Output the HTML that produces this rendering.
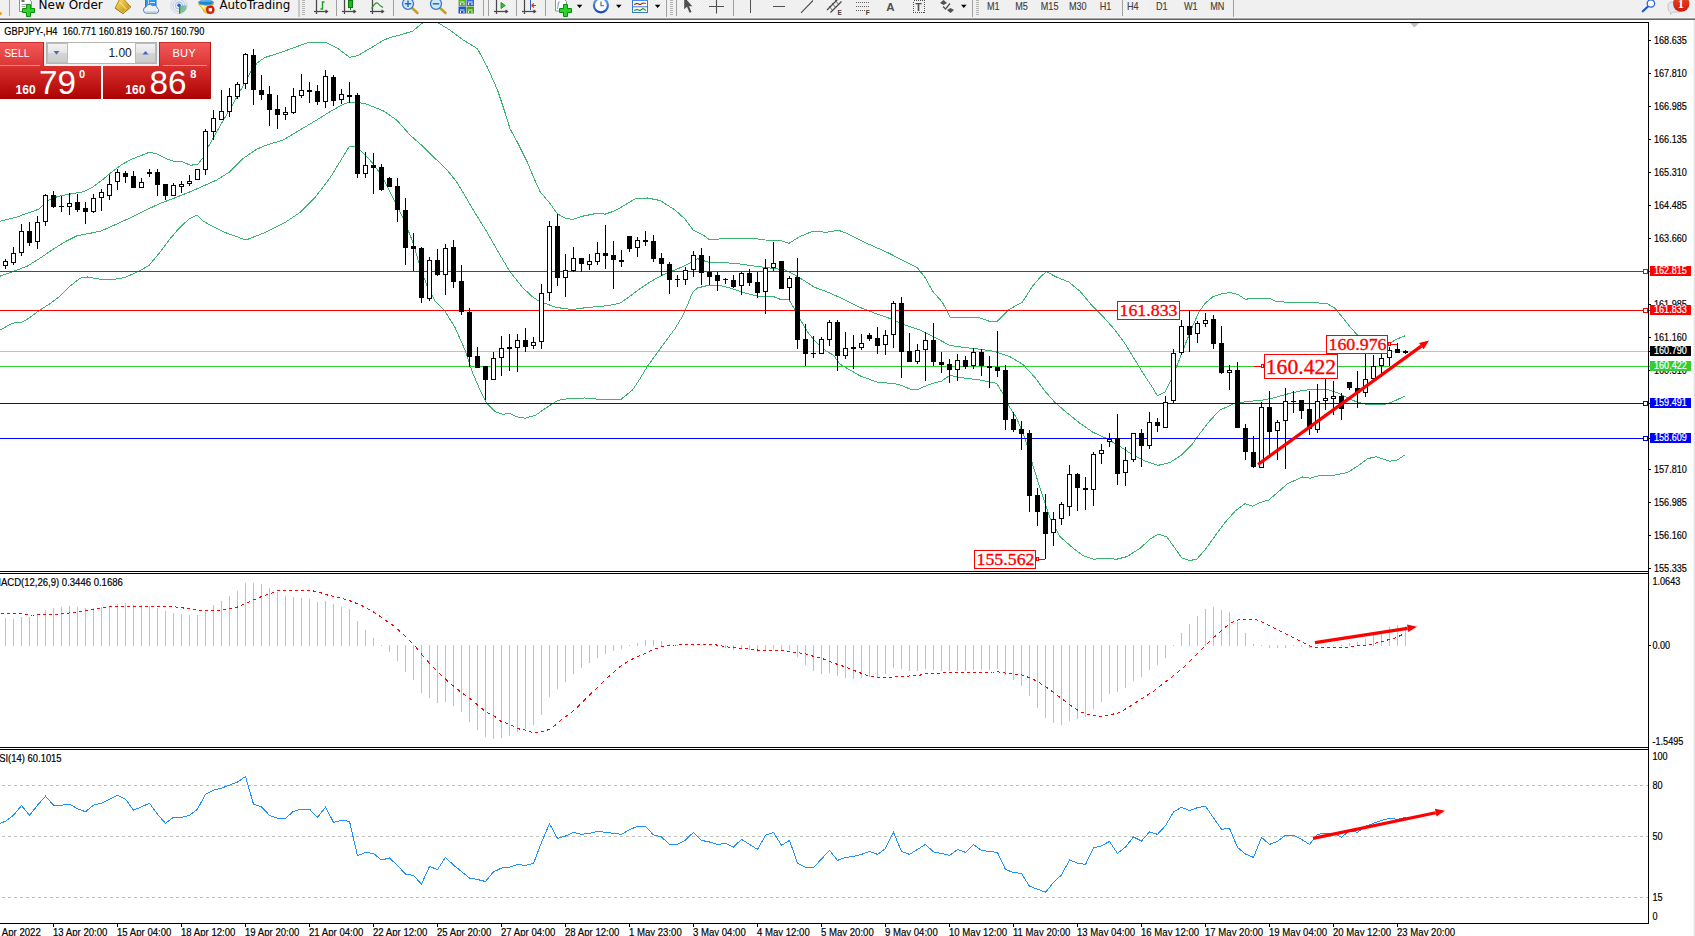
<!DOCTYPE html>
<html><head><meta charset="utf-8"><title>GBPJPY H4</title>
<style>html,body{margin:0;padding:0;background:#fff;overflow:hidden}svg{display:block}</style>
</head><body>
<svg width="1695" height="936" viewBox="0 0 1695 936">
<defs>
<linearGradient id="gTop" x1="0" y1="0" x2="0" y2="1"><stop offset="0" stop-color="#f45a5a"/><stop offset="1" stop-color="#dc3535"/></linearGradient>
<linearGradient id="gBot" x1="0" y1="0" x2="0" y2="1"><stop offset="0" stop-color="#d93030"/><stop offset="1" stop-color="#ac0202"/></linearGradient>
<linearGradient id="gBtn" x1="0" y1="0" x2="0" y2="1"><stop offset="0" stop-color="#f4f4f4"/><stop offset="0.5" stop-color="#e4e4e4"/><stop offset="0.5" stop-color="#d4d4d4"/><stop offset="1" stop-color="#cccccc"/></linearGradient>
<linearGradient id="gGold" x1="0" y1="0" x2="1" y2="1"><stop offset="0" stop-color="#ffe36a"/><stop offset="1" stop-color="#b8860b"/></linearGradient>
<linearGradient id="gBlue" x1="0" y1="0" x2="0" y2="1"><stop offset="0" stop-color="#6aa8ee"/><stop offset="1" stop-color="#1448b8"/></linearGradient>
<linearGradient id="gRed" x1="0" y1="0" x2="0" y2="1"><stop offset="0" stop-color="#e84a2a"/><stop offset="1" stop-color="#d01808"/></linearGradient>
<pattern id="hatch" width="2" height="2" patternUnits="userSpaceOnUse"><rect width="2" height="2" fill="#f6f6f6"/><rect width="1" height="1" fill="#ececec"/><rect x="1" y="1" width="1" height="1" fill="#ececec"/></pattern>
<clipPath id="cMain"><rect x="0" y="23" width="1648" height="548"/></clipPath>
<clipPath id="cTb"><rect x="0" y="0" width="1695" height="17"/></clipPath>
</defs>
<rect width="1695" height="936" fill="#fff"/>
<g shape-rendering="crispEdges">
<rect x="0" y="351" width="1648" height="1" fill="#c0c0c0"/>
<g clip-path="url(#cMain)" fill="none" stroke="#3cb371" stroke-width="1">
<polyline points="0.0,221.3 16.0,217.3 27.2,213.3 38.5,209.3 48.0,200.5 57.7,196.5 70.5,194.0 83.3,191.7 93.0,186.9 102.6,179.7 112.2,171.7 121.8,164.5 131.4,159.3 141.0,155.6 149.8,152.1 157.0,154.0 166.7,158.8 174.7,161.6 182.7,162.0 190.7,165.3 198.0,164.1 203.5,157.2 208.3,146.7 216.7,131.7 225.0,117.5 233.3,103.3 241.7,88.3 250.0,73.0 257.0,63.0 265.0,57.5 283.3,51.5 308.3,42.5 326.0,42.5 338.0,48.5 349.5,57.3 358.0,55.5 373.3,46.5 382.5,40.8 390.0,37.5 400.0,35.0 412.5,31.2 422.5,23.0 430.0,19.0 437.5,22.5 450.0,30.0 462.5,39.5 477.5,48.7 487.5,67.5 497.5,90.0 505.0,112.5 510.0,128.7 517.5,142.5 527.5,162.5 533.3,176.7 540.0,191.5 550.0,203.5 557.5,214.0 565.0,218.0 572.5,219.4 582.5,216.2 597.5,213.2 605.0,214.2 615.0,210.8 625.0,205.0 636.0,198.2 647.5,198.0 660.0,200.5 675.0,210.0 685.0,219.0 693.5,230.5 702.5,234.5 709.0,239.5 730.0,238.5 755.0,238.5 765.0,240.0 780.0,240.3 789.0,243.3 800.0,236.5 812.5,231.4 826.7,232.2 838.5,230.2 847.5,233.7 865.0,242.5 887.5,252.5 905.0,261.4 917.5,267.8 925.0,277.5 932.5,291.0 942.5,302.5 950.0,317.0 965.0,317.5 980.0,318.0 990.0,321.5 997.5,321.2 1009.0,309.5 1022.5,302.0 1032.5,286.2 1040.0,277.5 1046.2,271.7 1057.5,277.5 1068.7,282.0 1080.0,291.2 1092.5,306.2 1105.0,318.7 1115.0,330.0 1125.0,343.7 1135.0,360.0 1145.0,376.2 1152.5,387.5 1157.3,395.7 1165.0,392.0 1172.5,377.0 1180.0,358.0 1185.0,345.0 1191.7,328.3 1198.3,313.3 1205.0,303.3 1213.3,296.5 1221.7,293.7 1230.0,292.6 1238.0,294.5 1245.0,299.2 1256.7,298.3 1270.0,298.3 1276.7,301.7 1296.7,302.5 1313.3,302.8 1326.7,303.3 1335.0,308.3 1343.3,318.3 1350.0,326.7 1356.7,334.2 1365.0,342.0 1375.0,347.0 1384.0,346.0 1390.8,342.5 1396.7,339.2 1405.0,335.8"/>
<polyline points="0.0,276.2 14.4,271.0 27.2,266.2 40.0,258.2 52.9,249.4 65.7,241.4 76.9,235.8 89.7,233.4 101.0,231.0 115.4,224.6 131.4,217.3 147.4,209.3 160.3,203.4 176.3,197.3 192.3,190.9 200.0,187.5 216.7,180.0 230.0,171.7 243.3,158.3 256.7,149.2 266.7,145.0 283.3,140.0 300.0,130.0 316.7,120.0 330.0,111.7 343.3,104.2 350.0,102.0 357.0,102.0 366.7,104.2 383.3,110.8 396.7,120.0 410.0,135.0 423.3,146.7 436.7,160.0 446.7,169.5 456.7,182.0 463.3,193.0 473.3,210.0 486.7,231.7 500.0,255.0 510.0,271.7 523.3,288.3 533.3,297.5 540.0,301.7 556.7,307.5 571.7,309.5 587.5,307.5 607.5,305.7 620.0,303.2 630.0,296.2 640.0,288.7 650.0,282.0 662.5,275.0 675.0,270.0 687.5,264.5 697.5,258.7 707.5,262.0 722.5,262.5 737.5,263.7 755.0,266.2 770.0,268.0 785.0,270.0 795.0,275.0 805.0,281.2 815.0,287.5 826.7,291.7 841.7,298.3 858.3,306.7 875.0,313.3 890.0,318.5 905.0,325.0 920.0,330.0 935.0,337.5 950.0,345.5 965.0,347.5 980.0,349.2 995.0,351.5 1010.0,356.7 1023.0,364.5 1035.0,377.5 1045.0,391.2 1055.0,402.5 1066.0,412.0 1080.0,423.3 1093.3,432.5 1106.7,438.5 1120.0,446.5 1133.3,455.3 1146.7,461.7 1158.3,465.3 1170.0,462.5 1181.7,455.0 1191.7,445.0 1200.0,433.3 1210.0,420.5 1220.0,410.0 1233.3,404.0 1246.7,401.5 1261.7,400.3 1275.0,397.5 1290.0,393.3 1303.3,390.3 1316.7,389.2 1326.7,389.2 1336.7,392.5 1346.7,397.5 1356.7,402.0 1366.7,404.5 1376.7,405.0 1385.0,404.2 1393.3,401.5 1405.0,396.0"/>
<polyline points="0.0,330.0 12.5,323.2 22.5,322.0 30.0,317.5 40.0,310.0 50.0,303.7 60.0,296.2 70.0,286.2 80.0,278.2 87.5,277.0 100.0,279.2 112.0,279.8 125.0,277.4 137.8,271.8 149.0,265.4 160.3,251.8 169.9,239.0 179.5,227.8 189.1,218.9 197.1,215.2 203.5,221.3 212.0,226.2 225.0,232.5 246.0,240.0 265.0,232.5 285.0,222.5 300.0,212.5 315.0,197.5 330.0,178.0 340.0,161.7 349.2,146.5 354.5,146.5 360.0,150.0 370.0,160.0 380.0,173.3 388.3,188.3 395.0,201.7 403.3,218.3 413.3,243.3 420.0,266.7 426.7,285.0 435.0,301.0 445.0,311.2 455.0,327.5 465.0,350.0 472.5,372.5 480.0,390.0 486.2,402.5 495.0,411.7 502.5,414.2 510.0,413.7 517.5,417.0 525.0,418.2 535.0,415.5 545.0,408.7 557.5,400.5 570.0,398.2 585.0,398.0 597.5,399.2 621.2,399.2 632.5,390.0 640.0,378.7 647.5,366.2 657.5,352.5 667.5,338.7 675.0,328.7 682.5,316.2 687.5,305.0 692.5,292.5 697.5,288.0 707.5,285.5 720.0,285.5 730.0,288.0 745.0,293.0 757.5,296.2 772.5,296.2 780.0,299.2 788.7,299.5 793.7,307.5 800.0,319.0 807.5,332.0 816.7,343.0 826.7,351.5 833.3,355.0 840.0,364.2 850.0,370.0 860.0,375.8 876.7,382.0 898.3,384.2 910.0,389.0 917.5,389.5 930.0,384.2 941.7,381.0 950.0,375.3 960.0,377.5 980.0,380.0 996.7,383.3 1001.7,391.7 1008.3,405.0 1016.7,418.3 1025.0,438.3 1030.0,455.0 1033.3,466.7 1041.7,493.3 1050.0,518.3 1060.0,536.7 1073.3,548.3 1083.3,555.8 1093.3,559.2 1105.0,558.3 1116.7,559.2 1126.7,556.7 1140.0,548.3 1150.0,539.2 1158.3,534.2 1166.7,536.7 1175.0,548.3 1181.7,558.0 1190.0,560.5 1196.7,559.2 1205.0,550.0 1215.0,536.0 1225.0,522.5 1235.0,511.2 1245.0,503.7 1252.5,506.2 1260.0,502.5 1268.7,500.0 1277.5,492.5 1287.5,483.7 1302.5,477.0 1310.0,478.2 1320.0,475.5 1335.0,475.0 1347.5,472.5 1357.5,466.2 1367.5,458.7 1376.2,456.7 1390.0,461.2 1397.5,460.0 1404.5,455.0"/>
</g>
<rect x="0" y="271" width="1648" height="1" fill="#ff0000"/>
<rect x="0" y="310" width="1648" height="1" fill="#ff0000"/>
<rect x="0" y="366" width="1648" height="1" fill="#32cd32"/>
<rect x="0" y="403" width="1648" height="1" fill="#0000ff"/>
<rect x="0" y="438" width="1648" height="1" fill="#0000ff"/>
<rect x="1643.5" y="269.5" width="4" height="4" fill="#fff" stroke="#ff0000" stroke-width="1"/>
<rect x="1643.5" y="308.5" width="4" height="4" fill="#fff" stroke="#ff0000" stroke-width="1"/>
<rect x="1643.5" y="401.5" width="4" height="4" fill="#fff" stroke="#0000ff" stroke-width="1"/>
<rect x="1643.5" y="436.5" width="4" height="4" fill="#fff" stroke="#0000ff" stroke-width="1"/>
<rect x="5" y="259" width="1" height="10" fill="#000"/>
<rect x="3" y="261" width="5" height="5" fill="#000"/>
<rect x="4" y="262" width="3" height="3" fill="#fff"/>
<rect x="13" y="247" width="1" height="18" fill="#000"/>
<rect x="11" y="253" width="5" height="10" fill="#000"/>
<rect x="12" y="254" width="3" height="8" fill="#fff"/>
<rect x="21" y="224" width="1" height="32" fill="#000"/>
<rect x="19" y="231" width="5" height="22" fill="#000"/>
<rect x="20" y="232" width="3" height="20" fill="#fff"/>
<rect x="29" y="222" width="1" height="24" fill="#000"/>
<rect x="27" y="231" width="5" height="12" fill="#000"/>
<rect x="37" y="216" width="1" height="33" fill="#000"/>
<rect x="35" y="222" width="5" height="20" fill="#000"/>
<rect x="36" y="223" width="3" height="18" fill="#fff"/>
<rect x="45" y="194" width="1" height="32" fill="#000"/>
<rect x="43" y="195" width="5" height="27" fill="#000"/>
<rect x="44" y="196" width="3" height="25" fill="#fff"/>
<rect x="53" y="191" width="1" height="17" fill="#000"/>
<rect x="51" y="195" width="5" height="12" fill="#000"/>
<rect x="61" y="196" width="1" height="16" fill="#000"/>
<rect x="59" y="206" width="5" height="1" fill="#000"/>
<rect x="69" y="193" width="1" height="22" fill="#000"/>
<rect x="67" y="203" width="5" height="4" fill="#000"/>
<rect x="68" y="204" width="3" height="2" fill="#fff"/>
<rect x="77" y="194" width="1" height="18" fill="#000"/>
<rect x="75" y="202" width="5" height="8" fill="#000"/>
<rect x="85" y="202" width="1" height="22" fill="#000"/>
<rect x="83" y="208" width="5" height="4" fill="#000"/>
<rect x="93" y="194" width="1" height="19" fill="#000"/>
<rect x="91" y="198" width="5" height="14" fill="#000"/>
<rect x="92" y="199" width="3" height="12" fill="#fff"/>
<rect x="101" y="189" width="1" height="22" fill="#000"/>
<rect x="99" y="192" width="5" height="6" fill="#000"/>
<rect x="100" y="193" width="3" height="4" fill="#fff"/>
<rect x="109" y="175" width="1" height="25" fill="#000"/>
<rect x="107" y="184" width="5" height="12" fill="#000"/>
<rect x="108" y="185" width="3" height="10" fill="#fff"/>
<rect x="117" y="169" width="1" height="21" fill="#000"/>
<rect x="115" y="172" width="5" height="10" fill="#000"/>
<rect x="116" y="173" width="3" height="8" fill="#fff"/>
<rect x="125" y="171" width="1" height="12" fill="#000"/>
<rect x="123" y="173" width="5" height="4" fill="#000"/>
<rect x="133" y="171" width="1" height="17" fill="#000"/>
<rect x="131" y="176" width="5" height="12" fill="#000"/>
<rect x="141" y="178" width="1" height="10" fill="#000"/>
<rect x="139" y="182" width="5" height="6" fill="#000"/>
<rect x="140" y="183" width="3" height="4" fill="#fff"/>
<rect x="149" y="169" width="1" height="8" fill="#000"/>
<rect x="147" y="172" width="5" height="2" fill="#000"/>
<rect x="157" y="169" width="1" height="27" fill="#000"/>
<rect x="155" y="172" width="5" height="13" fill="#000"/>
<rect x="165" y="184" width="1" height="16" fill="#000"/>
<rect x="163" y="184" width="5" height="12" fill="#000"/>
<rect x="173" y="183" width="1" height="13" fill="#000"/>
<rect x="171" y="185" width="5" height="11" fill="#000"/>
<rect x="172" y="186" width="3" height="9" fill="#fff"/>
<rect x="181" y="181" width="1" height="12" fill="#000"/>
<rect x="179" y="184" width="5" height="3" fill="#000"/>
<rect x="180" y="185" width="3" height="1" fill="#fff"/>
<rect x="189" y="175" width="1" height="11" fill="#000"/>
<rect x="187" y="181" width="5" height="3" fill="#000"/>
<rect x="188" y="182" width="3" height="1" fill="#fff"/>
<rect x="197" y="169" width="1" height="11" fill="#000"/>
<rect x="195" y="169" width="5" height="11" fill="#000"/>
<rect x="196" y="170" width="3" height="9" fill="#fff"/>
<rect x="205" y="129" width="1" height="46" fill="#000"/>
<rect x="203" y="131" width="5" height="39" fill="#000"/>
<rect x="204" y="132" width="3" height="37" fill="#fff"/>
<rect x="213" y="110" width="1" height="30" fill="#000"/>
<rect x="211" y="118" width="5" height="14" fill="#000"/>
<rect x="212" y="119" width="3" height="12" fill="#fff"/>
<rect x="221" y="90" width="1" height="30" fill="#000"/>
<rect x="219" y="111" width="5" height="9" fill="#000"/>
<rect x="220" y="112" width="3" height="7" fill="#fff"/>
<rect x="229" y="88" width="1" height="29" fill="#000"/>
<rect x="227" y="96" width="5" height="16" fill="#000"/>
<rect x="228" y="97" width="3" height="14" fill="#fff"/>
<rect x="237" y="82" width="1" height="17" fill="#000"/>
<rect x="235" y="84" width="5" height="13" fill="#000"/>
<rect x="236" y="85" width="3" height="11" fill="#fff"/>
<rect x="245" y="53" width="1" height="36" fill="#000"/>
<rect x="243" y="54" width="5" height="30" fill="#000"/>
<rect x="244" y="55" width="3" height="28" fill="#fff"/>
<rect x="253" y="49" width="1" height="56" fill="#000"/>
<rect x="251" y="55" width="5" height="35" fill="#000"/>
<rect x="261" y="75" width="1" height="25" fill="#000"/>
<rect x="259" y="90" width="5" height="5" fill="#000"/>
<rect x="269" y="86" width="1" height="40" fill="#000"/>
<rect x="267" y="94" width="5" height="16" fill="#000"/>
<rect x="277" y="95" width="1" height="34" fill="#000"/>
<rect x="275" y="109" width="5" height="6" fill="#000"/>
<rect x="285" y="107" width="1" height="13" fill="#000"/>
<rect x="283" y="112" width="5" height="3" fill="#000"/>
<rect x="284" y="113" width="3" height="1" fill="#fff"/>
<rect x="293" y="88" width="1" height="26" fill="#000"/>
<rect x="291" y="96" width="5" height="17" fill="#000"/>
<rect x="292" y="97" width="3" height="15" fill="#fff"/>
<rect x="301" y="74" width="1" height="24" fill="#000"/>
<rect x="299" y="90" width="5" height="6" fill="#000"/>
<rect x="300" y="91" width="3" height="4" fill="#fff"/>
<rect x="309" y="82" width="1" height="21" fill="#000"/>
<rect x="307" y="90" width="5" height="2" fill="#000"/>
<rect x="317" y="85" width="1" height="20" fill="#000"/>
<rect x="315" y="91" width="5" height="11" fill="#000"/>
<rect x="325" y="70" width="1" height="38" fill="#000"/>
<rect x="323" y="76" width="5" height="26" fill="#000"/>
<rect x="324" y="77" width="3" height="24" fill="#fff"/>
<rect x="333" y="75" width="1" height="31" fill="#000"/>
<rect x="331" y="77" width="5" height="24" fill="#000"/>
<rect x="341" y="89" width="1" height="15" fill="#000"/>
<rect x="339" y="94" width="5" height="6" fill="#000"/>
<rect x="340" y="95" width="3" height="4" fill="#fff"/>
<rect x="349" y="82" width="1" height="21" fill="#000"/>
<rect x="347" y="95" width="5" height="2" fill="#000"/>
<rect x="357" y="93" width="1" height="85" fill="#000"/>
<rect x="355" y="95" width="5" height="79" fill="#000"/>
<rect x="365" y="152" width="1" height="26" fill="#000"/>
<rect x="363" y="165" width="5" height="9" fill="#000"/>
<rect x="364" y="166" width="3" height="7" fill="#fff"/>
<rect x="373" y="153" width="1" height="41" fill="#000"/>
<rect x="371" y="165" width="5" height="3" fill="#000"/>
<rect x="381" y="164" width="1" height="27" fill="#000"/>
<rect x="379" y="167" width="5" height="23" fill="#000"/>
<rect x="389" y="177" width="1" height="10" fill="#000"/>
<rect x="387" y="178" width="5" height="9" fill="#000"/>
<rect x="397" y="178" width="1" height="44" fill="#000"/>
<rect x="395" y="186" width="5" height="24" fill="#000"/>
<rect x="405" y="198" width="1" height="67" fill="#000"/>
<rect x="403" y="210" width="5" height="38" fill="#000"/>
<rect x="413" y="233" width="1" height="38" fill="#000"/>
<rect x="411" y="246" width="5" height="3" fill="#000"/>
<rect x="421" y="247" width="1" height="56" fill="#000"/>
<rect x="419" y="248" width="5" height="50" fill="#000"/>
<rect x="429" y="257" width="1" height="44" fill="#000"/>
<rect x="427" y="260" width="5" height="39" fill="#000"/>
<rect x="428" y="261" width="3" height="37" fill="#fff"/>
<rect x="437" y="249" width="1" height="27" fill="#000"/>
<rect x="435" y="260" width="5" height="15" fill="#000"/>
<rect x="445" y="244" width="1" height="51" fill="#000"/>
<rect x="443" y="248" width="5" height="27" fill="#000"/>
<rect x="444" y="249" width="3" height="25" fill="#fff"/>
<rect x="453" y="240" width="1" height="48" fill="#000"/>
<rect x="451" y="247" width="5" height="35" fill="#000"/>
<rect x="461" y="265" width="1" height="50" fill="#000"/>
<rect x="459" y="281" width="5" height="31" fill="#000"/>
<rect x="469" y="308" width="1" height="59" fill="#000"/>
<rect x="467" y="312" width="5" height="45" fill="#000"/>
<rect x="477" y="347" width="1" height="21" fill="#000"/>
<rect x="475" y="356" width="5" height="12" fill="#000"/>
<rect x="485" y="366" width="1" height="34" fill="#000"/>
<rect x="483" y="366" width="5" height="14" fill="#000"/>
<rect x="493" y="352" width="1" height="28" fill="#000"/>
<rect x="491" y="358" width="5" height="22" fill="#000"/>
<rect x="492" y="359" width="3" height="20" fill="#fff"/>
<rect x="501" y="336" width="1" height="40" fill="#000"/>
<rect x="499" y="348" width="5" height="10" fill="#000"/>
<rect x="500" y="349" width="3" height="8" fill="#fff"/>
<rect x="509" y="334" width="1" height="37" fill="#000"/>
<rect x="507" y="347" width="5" height="2" fill="#000"/>
<rect x="517" y="334" width="1" height="38" fill="#000"/>
<rect x="515" y="340" width="5" height="8" fill="#000"/>
<rect x="516" y="341" width="3" height="6" fill="#fff"/>
<rect x="525" y="328" width="1" height="24" fill="#000"/>
<rect x="523" y="340" width="5" height="7" fill="#000"/>
<rect x="533" y="337" width="1" height="12" fill="#000"/>
<rect x="531" y="342" width="5" height="4" fill="#000"/>
<rect x="532" y="343" width="3" height="2" fill="#fff"/>
<rect x="541" y="284" width="1" height="65" fill="#000"/>
<rect x="539" y="293" width="5" height="49" fill="#000"/>
<rect x="540" y="294" width="3" height="47" fill="#fff"/>
<rect x="549" y="221" width="1" height="80" fill="#000"/>
<rect x="547" y="226" width="5" height="67" fill="#000"/>
<rect x="548" y="227" width="3" height="65" fill="#fff"/>
<rect x="557" y="214" width="1" height="72" fill="#000"/>
<rect x="555" y="226" width="5" height="52" fill="#000"/>
<rect x="565" y="254" width="1" height="43" fill="#000"/>
<rect x="563" y="270" width="5" height="8" fill="#000"/>
<rect x="564" y="271" width="3" height="6" fill="#fff"/>
<rect x="573" y="247" width="1" height="25" fill="#000"/>
<rect x="571" y="258" width="5" height="13" fill="#000"/>
<rect x="572" y="259" width="3" height="11" fill="#fff"/>
<rect x="581" y="258" width="1" height="14" fill="#000"/>
<rect x="579" y="258" width="5" height="6" fill="#000"/>
<rect x="589" y="254" width="1" height="16" fill="#000"/>
<rect x="587" y="261" width="5" height="4" fill="#000"/>
<rect x="588" y="262" width="3" height="2" fill="#fff"/>
<rect x="597" y="242" width="1" height="23" fill="#000"/>
<rect x="595" y="253" width="5" height="9" fill="#000"/>
<rect x="596" y="254" width="3" height="7" fill="#fff"/>
<rect x="605" y="225" width="1" height="44" fill="#000"/>
<rect x="603" y="253" width="5" height="3" fill="#000"/>
<rect x="613" y="241" width="1" height="48" fill="#000"/>
<rect x="611" y="255" width="5" height="5" fill="#000"/>
<rect x="621" y="250" width="1" height="17" fill="#000"/>
<rect x="619" y="260" width="5" height="2" fill="#000"/>
<rect x="629" y="236" width="1" height="16" fill="#000"/>
<rect x="627" y="236" width="5" height="13" fill="#000"/>
<rect x="637" y="237" width="1" height="20" fill="#000"/>
<rect x="635" y="240" width="5" height="8" fill="#000"/>
<rect x="636" y="241" width="3" height="6" fill="#fff"/>
<rect x="645" y="231" width="1" height="15" fill="#000"/>
<rect x="643" y="240" width="5" height="2" fill="#000"/>
<rect x="653" y="235" width="1" height="27" fill="#000"/>
<rect x="651" y="241" width="5" height="18" fill="#000"/>
<rect x="661" y="253" width="1" height="23" fill="#000"/>
<rect x="659" y="258" width="5" height="6" fill="#000"/>
<rect x="669" y="262" width="1" height="32" fill="#000"/>
<rect x="667" y="264" width="5" height="16" fill="#000"/>
<rect x="677" y="275" width="1" height="12" fill="#000"/>
<rect x="675" y="279" width="5" height="1" fill="#000"/>
<rect x="685" y="267" width="1" height="18" fill="#000"/>
<rect x="683" y="270" width="5" height="10" fill="#000"/>
<rect x="684" y="271" width="3" height="8" fill="#fff"/>
<rect x="693" y="251" width="1" height="26" fill="#000"/>
<rect x="691" y="255" width="5" height="15" fill="#000"/>
<rect x="692" y="256" width="3" height="13" fill="#fff"/>
<rect x="701" y="248" width="1" height="37" fill="#000"/>
<rect x="699" y="255" width="5" height="18" fill="#000"/>
<rect x="709" y="256" width="1" height="29" fill="#000"/>
<rect x="707" y="272" width="5" height="5" fill="#000"/>
<rect x="717" y="272" width="1" height="19" fill="#000"/>
<rect x="715" y="275" width="5" height="6" fill="#000"/>
<rect x="725" y="278" width="1" height="6" fill="#000"/>
<rect x="723" y="279" width="5" height="1" fill="#000"/>
<rect x="733" y="275" width="1" height="13" fill="#000"/>
<rect x="731" y="280" width="5" height="7" fill="#000"/>
<rect x="741" y="272" width="1" height="23" fill="#000"/>
<rect x="739" y="273" width="5" height="13" fill="#000"/>
<rect x="740" y="274" width="3" height="11" fill="#fff"/>
<rect x="749" y="269" width="1" height="17" fill="#000"/>
<rect x="747" y="273" width="5" height="10" fill="#000"/>
<rect x="757" y="272" width="1" height="26" fill="#000"/>
<rect x="755" y="282" width="5" height="11" fill="#000"/>
<rect x="765" y="259" width="1" height="55" fill="#000"/>
<rect x="763" y="268" width="5" height="24" fill="#000"/>
<rect x="764" y="269" width="3" height="22" fill="#fff"/>
<rect x="773" y="242" width="1" height="29" fill="#000"/>
<rect x="771" y="263" width="5" height="5" fill="#000"/>
<rect x="772" y="264" width="3" height="3" fill="#fff"/>
<rect x="781" y="261" width="1" height="28" fill="#000"/>
<rect x="779" y="261" width="5" height="28" fill="#000"/>
<rect x="789" y="276" width="1" height="24" fill="#000"/>
<rect x="787" y="278" width="5" height="10" fill="#000"/>
<rect x="788" y="279" width="3" height="8" fill="#fff"/>
<rect x="797" y="258" width="1" height="91" fill="#000"/>
<rect x="795" y="277" width="5" height="63" fill="#000"/>
<rect x="805" y="324" width="1" height="42" fill="#000"/>
<rect x="803" y="339" width="5" height="15" fill="#000"/>
<rect x="813" y="336" width="1" height="22" fill="#000"/>
<rect x="811" y="353" width="5" height="1" fill="#000"/>
<rect x="821" y="337" width="1" height="17" fill="#000"/>
<rect x="819" y="339" width="5" height="15" fill="#000"/>
<rect x="820" y="340" width="3" height="13" fill="#fff"/>
<rect x="829" y="320" width="1" height="26" fill="#000"/>
<rect x="827" y="322" width="5" height="18" fill="#000"/>
<rect x="828" y="323" width="3" height="16" fill="#fff"/>
<rect x="837" y="320" width="1" height="51" fill="#000"/>
<rect x="835" y="322" width="5" height="34" fill="#000"/>
<rect x="845" y="332" width="1" height="27" fill="#000"/>
<rect x="843" y="348" width="5" height="8" fill="#000"/>
<rect x="844" y="349" width="3" height="6" fill="#fff"/>
<rect x="853" y="335" width="1" height="34" fill="#000"/>
<rect x="851" y="347" width="5" height="2" fill="#000"/>
<rect x="861" y="334" width="1" height="16" fill="#000"/>
<rect x="859" y="343" width="5" height="5" fill="#000"/>
<rect x="860" y="344" width="3" height="3" fill="#fff"/>
<rect x="869" y="333" width="1" height="8" fill="#000"/>
<rect x="867" y="335" width="5" height="4" fill="#000"/>
<rect x="877" y="327" width="1" height="27" fill="#000"/>
<rect x="875" y="338" width="5" height="8" fill="#000"/>
<rect x="885" y="330" width="1" height="25" fill="#000"/>
<rect x="883" y="335" width="5" height="10" fill="#000"/>
<rect x="884" y="336" width="3" height="8" fill="#fff"/>
<rect x="893" y="301" width="1" height="47" fill="#000"/>
<rect x="891" y="303" width="5" height="32" fill="#000"/>
<rect x="892" y="304" width="3" height="30" fill="#fff"/>
<rect x="901" y="297" width="1" height="81" fill="#000"/>
<rect x="899" y="303" width="5" height="49" fill="#000"/>
<rect x="909" y="333" width="1" height="29" fill="#000"/>
<rect x="907" y="351" width="5" height="11" fill="#000"/>
<rect x="917" y="344" width="1" height="20" fill="#000"/>
<rect x="915" y="350" width="5" height="12" fill="#000"/>
<rect x="916" y="351" width="3" height="10" fill="#fff"/>
<rect x="925" y="332" width="1" height="49" fill="#000"/>
<rect x="923" y="340" width="5" height="10" fill="#000"/>
<rect x="924" y="341" width="3" height="8" fill="#fff"/>
<rect x="933" y="323" width="1" height="43" fill="#000"/>
<rect x="931" y="340" width="5" height="22" fill="#000"/>
<rect x="941" y="352" width="1" height="21" fill="#000"/>
<rect x="939" y="362" width="5" height="3" fill="#000"/>
<rect x="949" y="359" width="1" height="24" fill="#000"/>
<rect x="947" y="364" width="5" height="6" fill="#000"/>
<rect x="957" y="354" width="1" height="27" fill="#000"/>
<rect x="955" y="360" width="5" height="10" fill="#000"/>
<rect x="956" y="361" width="3" height="8" fill="#fff"/>
<rect x="965" y="356" width="1" height="13" fill="#000"/>
<rect x="963" y="360" width="5" height="7" fill="#000"/>
<rect x="973" y="348" width="1" height="21" fill="#000"/>
<rect x="971" y="352" width="5" height="14" fill="#000"/>
<rect x="972" y="353" width="3" height="12" fill="#fff"/>
<rect x="981" y="349" width="1" height="27" fill="#000"/>
<rect x="979" y="352" width="5" height="14" fill="#000"/>
<rect x="989" y="356" width="1" height="32" fill="#000"/>
<rect x="987" y="366" width="5" height="2" fill="#000"/>
<rect x="997" y="331" width="1" height="46" fill="#000"/>
<rect x="995" y="367" width="5" height="4" fill="#000"/>
<rect x="1005" y="365" width="1" height="65" fill="#000"/>
<rect x="1003" y="370" width="5" height="50" fill="#000"/>
<rect x="1013" y="412" width="1" height="20" fill="#000"/>
<rect x="1011" y="419" width="5" height="11" fill="#000"/>
<rect x="1021" y="421" width="1" height="29" fill="#000"/>
<rect x="1019" y="429" width="5" height="5" fill="#000"/>
<rect x="1029" y="430" width="1" height="82" fill="#000"/>
<rect x="1027" y="433" width="5" height="63" fill="#000"/>
<rect x="1037" y="488" width="1" height="38" fill="#000"/>
<rect x="1035" y="495" width="5" height="17" fill="#000"/>
<rect x="1045" y="494" width="1" height="65" fill="#000"/>
<rect x="1043" y="512" width="5" height="22" fill="#000"/>
<rect x="1053" y="512" width="1" height="34" fill="#000"/>
<rect x="1051" y="519" width="5" height="14" fill="#000"/>
<rect x="1052" y="520" width="3" height="12" fill="#fff"/>
<rect x="1061" y="502" width="1" height="23" fill="#000"/>
<rect x="1059" y="504" width="5" height="15" fill="#000"/>
<rect x="1060" y="505" width="3" height="13" fill="#fff"/>
<rect x="1069" y="465" width="1" height="51" fill="#000"/>
<rect x="1067" y="474" width="5" height="33" fill="#000"/>
<rect x="1068" y="475" width="3" height="31" fill="#fff"/>
<rect x="1077" y="473" width="1" height="38" fill="#000"/>
<rect x="1075" y="474" width="5" height="14" fill="#000"/>
<rect x="1085" y="477" width="1" height="33" fill="#000"/>
<rect x="1083" y="488" width="5" height="2" fill="#000"/>
<rect x="1093" y="452" width="1" height="54" fill="#000"/>
<rect x="1091" y="454" width="5" height="36" fill="#000"/>
<rect x="1092" y="455" width="3" height="34" fill="#fff"/>
<rect x="1101" y="444" width="1" height="20" fill="#000"/>
<rect x="1099" y="450" width="5" height="4" fill="#000"/>
<rect x="1100" y="451" width="3" height="2" fill="#fff"/>
<rect x="1109" y="433" width="1" height="14" fill="#000"/>
<rect x="1107" y="439" width="5" height="3" fill="#000"/>
<rect x="1108" y="440" width="3" height="1" fill="#fff"/>
<rect x="1117" y="414" width="1" height="71" fill="#000"/>
<rect x="1115" y="438" width="5" height="36" fill="#000"/>
<rect x="1125" y="447" width="1" height="39" fill="#000"/>
<rect x="1123" y="460" width="5" height="13" fill="#000"/>
<rect x="1124" y="461" width="3" height="11" fill="#fff"/>
<rect x="1133" y="433" width="1" height="29" fill="#000"/>
<rect x="1131" y="433" width="5" height="27" fill="#000"/>
<rect x="1132" y="434" width="3" height="25" fill="#fff"/>
<rect x="1141" y="429" width="1" height="38" fill="#000"/>
<rect x="1139" y="433" width="5" height="13" fill="#000"/>
<rect x="1149" y="412" width="1" height="37" fill="#000"/>
<rect x="1147" y="422" width="5" height="24" fill="#000"/>
<rect x="1148" y="423" width="3" height="22" fill="#fff"/>
<rect x="1157" y="418" width="1" height="14" fill="#000"/>
<rect x="1155" y="422" width="5" height="4" fill="#000"/>
<rect x="1165" y="396" width="1" height="32" fill="#000"/>
<rect x="1163" y="402" width="5" height="26" fill="#000"/>
<rect x="1164" y="403" width="3" height="24" fill="#fff"/>
<rect x="1173" y="349" width="1" height="54" fill="#000"/>
<rect x="1171" y="353" width="5" height="48" fill="#000"/>
<rect x="1172" y="354" width="3" height="46" fill="#fff"/>
<rect x="1181" y="320" width="1" height="35" fill="#000"/>
<rect x="1179" y="326" width="5" height="27" fill="#000"/>
<rect x="1180" y="327" width="3" height="25" fill="#fff"/>
<rect x="1189" y="310" width="1" height="42" fill="#000"/>
<rect x="1187" y="326" width="5" height="9" fill="#000"/>
<rect x="1197" y="321" width="1" height="22" fill="#000"/>
<rect x="1195" y="323" width="5" height="11" fill="#000"/>
<rect x="1196" y="324" width="3" height="9" fill="#fff"/>
<rect x="1205" y="313" width="1" height="14" fill="#000"/>
<rect x="1203" y="320" width="5" height="4" fill="#000"/>
<rect x="1204" y="321" width="3" height="2" fill="#fff"/>
<rect x="1213" y="315" width="1" height="34" fill="#000"/>
<rect x="1211" y="319" width="5" height="25" fill="#000"/>
<rect x="1221" y="326" width="1" height="48" fill="#000"/>
<rect x="1219" y="343" width="5" height="30" fill="#000"/>
<rect x="1229" y="365" width="1" height="25" fill="#000"/>
<rect x="1227" y="370" width="5" height="3" fill="#000"/>
<rect x="1228" y="371" width="3" height="1" fill="#fff"/>
<rect x="1237" y="362" width="1" height="66" fill="#000"/>
<rect x="1235" y="370" width="5" height="58" fill="#000"/>
<rect x="1245" y="424" width="1" height="36" fill="#000"/>
<rect x="1243" y="428" width="5" height="24" fill="#000"/>
<rect x="1253" y="436" width="1" height="32" fill="#000"/>
<rect x="1251" y="452" width="5" height="15" fill="#000"/>
<rect x="1261" y="402" width="1" height="66" fill="#000"/>
<rect x="1259" y="407" width="5" height="61" fill="#000"/>
<rect x="1260" y="408" width="3" height="59" fill="#fff"/>
<rect x="1269" y="391" width="1" height="66" fill="#000"/>
<rect x="1267" y="407" width="5" height="25" fill="#000"/>
<rect x="1277" y="420" width="1" height="40" fill="#000"/>
<rect x="1275" y="422" width="5" height="9" fill="#000"/>
<rect x="1276" y="423" width="3" height="7" fill="#fff"/>
<rect x="1285" y="388" width="1" height="81" fill="#000"/>
<rect x="1283" y="401" width="5" height="20" fill="#000"/>
<rect x="1284" y="402" width="3" height="18" fill="#fff"/>
<rect x="1293" y="391" width="1" height="22" fill="#000"/>
<rect x="1291" y="401" width="5" height="1" fill="#000"/>
<rect x="1301" y="400" width="1" height="19" fill="#000"/>
<rect x="1299" y="400" width="5" height="11" fill="#000"/>
<rect x="1309" y="391" width="1" height="44" fill="#000"/>
<rect x="1307" y="409" width="5" height="20" fill="#000"/>
<rect x="1317" y="384" width="1" height="49" fill="#000"/>
<rect x="1315" y="401" width="5" height="29" fill="#000"/>
<rect x="1316" y="402" width="3" height="27" fill="#fff"/>
<rect x="1325" y="375" width="1" height="35" fill="#000"/>
<rect x="1323" y="398" width="5" height="3" fill="#000"/>
<rect x="1324" y="399" width="3" height="1" fill="#fff"/>
<rect x="1333" y="381" width="1" height="34" fill="#000"/>
<rect x="1331" y="396" width="5" height="3" fill="#000"/>
<rect x="1332" y="397" width="3" height="1" fill="#fff"/>
<rect x="1341" y="393" width="1" height="27" fill="#000"/>
<rect x="1339" y="396" width="5" height="13" fill="#000"/>
<rect x="1349" y="382" width="1" height="8" fill="#000"/>
<rect x="1347" y="382" width="5" height="6" fill="#000"/>
<rect x="1357" y="371" width="1" height="37" fill="#000"/>
<rect x="1355" y="388" width="5" height="5" fill="#000"/>
<rect x="1365" y="353" width="1" height="44" fill="#000"/>
<rect x="1363" y="379" width="5" height="14" fill="#000"/>
<rect x="1364" y="380" width="3" height="12" fill="#fff"/>
<rect x="1373" y="355" width="1" height="27" fill="#000"/>
<rect x="1371" y="366" width="5" height="13" fill="#000"/>
<rect x="1372" y="367" width="3" height="11" fill="#fff"/>
<rect x="1381" y="352" width="1" height="25" fill="#000"/>
<rect x="1379" y="358" width="5" height="8" fill="#000"/>
<rect x="1380" y="359" width="3" height="6" fill="#fff"/>
<rect x="1389" y="347" width="1" height="19" fill="#000"/>
<rect x="1387" y="350" width="5" height="8" fill="#000"/>
<rect x="1388" y="351" width="3" height="6" fill="#fff"/>
<rect x="1397" y="343" width="1" height="10" fill="#000"/>
<rect x="1395" y="349" width="5" height="4" fill="#000"/>
<rect x="1405" y="350" width="1" height="4" fill="#000"/>
<rect x="1403" y="351" width="5" height="2" fill="#000"/>
</g>
<rect x="1117.5" y="301.5" width="62" height="18" fill="#fff" stroke="#ff0000" stroke-width="1" shape-rendering="crispEdges"/>
<text x="1119.5" y="316.3" font-family="Liberation Serif, serif" font-size="17.3" fill="#ff0000" stroke="#ff0000" stroke-width="0.35" textLength="58" lengthAdjust="spacingAndGlyphs">161.833</text>
<rect x="1326.5" y="335.5" width="61" height="18" fill="#fff" stroke="#ff0000" stroke-width="1" shape-rendering="crispEdges"/>
<text x="1328.5" y="350.3" font-family="Liberation Serif, serif" font-size="17.3" fill="#ff0000" stroke="#ff0000" stroke-width="0.35" textLength="58" lengthAdjust="spacingAndGlyphs">160.976</text>
<g shape-rendering="crispEdges"><rect x="1388.5" y="342.5" width="2" height="3" fill="#fff" stroke="#ff0000"/><rect x="1391" y="344" width="6" height="1" fill="#ff0000"/></g>
<rect x="1264.5" y="354.5" width="73" height="24" fill="#fff" stroke="#ff0000" stroke-width="1" shape-rendering="crispEdges"/>
<text x="1265.8" y="374" font-family="Liberation Serif, serif" font-size="21.2" fill="#ff0000" stroke="#ff0000" stroke-width="0.35" textLength="70.3" lengthAdjust="spacingAndGlyphs">160.422</text>
<g shape-rendering="crispEdges"><rect x="1261.5" y="364.5" width="2" height="3" fill="#fff" stroke="#ff0000"/><rect x="1254" y="366" width="7" height="1" fill="#ff0000"/></g>
<rect x="974.5" y="550.5" width="61" height="18" fill="#fff" stroke="#ff0000" stroke-width="1" shape-rendering="crispEdges"/>
<text x="976.5" y="565.3" font-family="Liberation Serif, serif" font-size="17.3" fill="#ff0000" stroke="#ff0000" stroke-width="0.35" textLength="58" lengthAdjust="spacingAndGlyphs">155.562</text>
<g shape-rendering="crispEdges"><rect x="1036.5" y="557.5" width="2" height="3" fill="#fff" stroke="#ff0000"/><rect x="1039" y="559" width="6" height="1" fill="#ff0000"/></g>
<g shape-rendering="crispEdges" fill="#000">
<rect x="0" y="22" width="1649" height="1"/>
<rect x="1648" y="22" width="1" height="902"/>
<rect x="0" y="571" width="1649" height="1"/>
<rect x="0" y="573" width="1649" height="1"/>
<rect x="0" y="747" width="1649" height="1"/>
<rect x="0" y="749" width="1649" height="1"/>
<rect x="0" y="923" width="1649" height="1"/>
</g>
<polygon points="1410,23 1419,23 1414.5,27.5" fill="#c0c0c0"/>
<rect x="1649" y="40" width="2" height="1" fill="#000" shape-rendering="crispEdges"/>
<text transform="translate(1654,44) scale(0.9,1)" font-family="Liberation Sans, sans-serif" font-size="10.1" fill="#000" stroke="#000" stroke-width="0.18" >168.635</text>
<rect x="1649" y="73" width="2" height="1" fill="#000" shape-rendering="crispEdges"/>
<text transform="translate(1654,77) scale(0.9,1)" font-family="Liberation Sans, sans-serif" font-size="10.1" fill="#000" stroke="#000" stroke-width="0.18" >167.810</text>
<rect x="1649" y="106" width="2" height="1" fill="#000" shape-rendering="crispEdges"/>
<text transform="translate(1654,110) scale(0.9,1)" font-family="Liberation Sans, sans-serif" font-size="10.1" fill="#000" stroke="#000" stroke-width="0.18" >166.985</text>
<rect x="1649" y="139" width="2" height="1" fill="#000" shape-rendering="crispEdges"/>
<text transform="translate(1654,143) scale(0.9,1)" font-family="Liberation Sans, sans-serif" font-size="10.1" fill="#000" stroke="#000" stroke-width="0.18" >166.135</text>
<rect x="1649" y="172" width="2" height="1" fill="#000" shape-rendering="crispEdges"/>
<text transform="translate(1654,176) scale(0.9,1)" font-family="Liberation Sans, sans-serif" font-size="10.1" fill="#000" stroke="#000" stroke-width="0.18" >165.310</text>
<rect x="1649" y="205" width="2" height="1" fill="#000" shape-rendering="crispEdges"/>
<text transform="translate(1654,209) scale(0.9,1)" font-family="Liberation Sans, sans-serif" font-size="10.1" fill="#000" stroke="#000" stroke-width="0.18" >164.485</text>
<rect x="1649" y="238" width="2" height="1" fill="#000" shape-rendering="crispEdges"/>
<text transform="translate(1654,242) scale(0.9,1)" font-family="Liberation Sans, sans-serif" font-size="10.1" fill="#000" stroke="#000" stroke-width="0.18" >163.660</text>
<rect x="1649" y="304" width="2" height="1" fill="#000" shape-rendering="crispEdges"/>
<text transform="translate(1654,308) scale(0.9,1)" font-family="Liberation Sans, sans-serif" font-size="10.1" fill="#000" stroke="#000" stroke-width="0.18" >161.985</text>
<rect x="1649" y="337" width="2" height="1" fill="#000" shape-rendering="crispEdges"/>
<text transform="translate(1654,341) scale(0.9,1)" font-family="Liberation Sans, sans-serif" font-size="10.1" fill="#000" stroke="#000" stroke-width="0.18" >161.160</text>
<rect x="1649" y="370" width="2" height="1" fill="#000" shape-rendering="crispEdges"/>
<text transform="translate(1654,374) scale(0.9,1)" font-family="Liberation Sans, sans-serif" font-size="10.1" fill="#000" stroke="#000" stroke-width="0.18" >160.310</text>
<rect x="1649" y="469" width="2" height="1" fill="#000" shape-rendering="crispEdges"/>
<text transform="translate(1654,473) scale(0.9,1)" font-family="Liberation Sans, sans-serif" font-size="10.1" fill="#000" stroke="#000" stroke-width="0.18" >157.810</text>
<rect x="1649" y="502" width="2" height="1" fill="#000" shape-rendering="crispEdges"/>
<text transform="translate(1654,506) scale(0.9,1)" font-family="Liberation Sans, sans-serif" font-size="10.1" fill="#000" stroke="#000" stroke-width="0.18" >156.985</text>
<rect x="1649" y="535" width="2" height="1" fill="#000" shape-rendering="crispEdges"/>
<text transform="translate(1654,539) scale(0.9,1)" font-family="Liberation Sans, sans-serif" font-size="10.1" fill="#000" stroke="#000" stroke-width="0.18" >156.160</text>
<rect x="1649" y="568" width="2" height="1" fill="#000" shape-rendering="crispEdges"/>
<text transform="translate(1654,572) scale(0.9,1)" font-family="Liberation Sans, sans-serif" font-size="10.1" fill="#000" stroke="#000" stroke-width="0.18" >155.335</text>
<text transform="translate(1652.5,584.5) scale(0.9,1)" font-family="Liberation Sans, sans-serif" font-size="10.1" fill="#000" stroke="#000" stroke-width="0.18" >1.0643</text>
<rect x="1649" y="645" width="2" height="1" shape-rendering="crispEdges"/>
<text transform="translate(1652.5,649) scale(0.9,1)" font-family="Liberation Sans, sans-serif" font-size="10.1" fill="#000" stroke="#000" stroke-width="0.18" >0.00</text>
<text transform="translate(1652.5,744.5) scale(0.9,1)" font-family="Liberation Sans, sans-serif" font-size="10.1" fill="#000" stroke="#000" stroke-width="0.18" >-1.5495</text>
<text transform="translate(1652.5,760.2) scale(0.9,1)" font-family="Liberation Sans, sans-serif" font-size="10.1" fill="#000" stroke="#000" stroke-width="0.18" >100</text>
<text transform="translate(1652.5,789) scale(0.9,1)" font-family="Liberation Sans, sans-serif" font-size="10.1" fill="#000" stroke="#000" stroke-width="0.18" >80</text>
<text transform="translate(1652.5,840) scale(0.9,1)" font-family="Liberation Sans, sans-serif" font-size="10.1" fill="#000" stroke="#000" stroke-width="0.18" >50</text>
<text transform="translate(1652.5,901) scale(0.9,1)" font-family="Liberation Sans, sans-serif" font-size="10.1" fill="#000" stroke="#000" stroke-width="0.18" >15</text>
<text transform="translate(1652.5,920.3) scale(0.9,1)" font-family="Liberation Sans, sans-serif" font-size="10.1" fill="#000" stroke="#000" stroke-width="0.18" >0</text>
<rect x="1650" y="266" width="41" height="10" fill="#ff0000" shape-rendering="crispEdges"/>
<text transform="translate(1654,274) scale(0.9,1)" font-family="Liberation Sans, sans-serif" font-size="10.1" fill="#fff" stroke="#fff" stroke-width="0.2" >162.815</text>
<rect x="1649" y="271" width="1" height="1" fill="#ff0000" shape-rendering="crispEdges"/>
<rect x="1650" y="305" width="41" height="10" fill="#ff0000" shape-rendering="crispEdges"/>
<text transform="translate(1654,313) scale(0.9,1)" font-family="Liberation Sans, sans-serif" font-size="10.1" fill="#fff" stroke="#fff" stroke-width="0.2" >161.833</text>
<rect x="1649" y="310" width="1" height="1" fill="#ff0000" shape-rendering="crispEdges"/>
<rect x="1650" y="361" width="41" height="10" fill="#32cd32" shape-rendering="crispEdges"/>
<text transform="translate(1654,369) scale(0.9,1)" font-family="Liberation Sans, sans-serif" font-size="10.1" fill="#fff" stroke="#fff" stroke-width="0.2" >160.422</text>
<rect x="1649" y="366" width="1" height="1" fill="#32cd32" shape-rendering="crispEdges"/>
<rect x="1650" y="346" width="41" height="10" fill="#000000" shape-rendering="crispEdges"/>
<text transform="translate(1654,354) scale(0.9,1)" font-family="Liberation Sans, sans-serif" font-size="10.1" fill="#fff" stroke="#fff" stroke-width="0.2" >160.790</text>
<rect x="1649" y="351" width="1" height="1" fill="#000000" shape-rendering="crispEdges"/>
<rect x="1650" y="398" width="41" height="10" fill="#0000ff" shape-rendering="crispEdges"/>
<text transform="translate(1654,406) scale(0.9,1)" font-family="Liberation Sans, sans-serif" font-size="10.1" fill="#fff" stroke="#fff" stroke-width="0.2" >159.491</text>
<rect x="1649" y="403" width="1" height="1" fill="#0000ff" shape-rendering="crispEdges"/>
<rect x="1650" y="433" width="41" height="10" fill="#0000ff" shape-rendering="crispEdges"/>
<text transform="translate(1654,441) scale(0.9,1)" font-family="Liberation Sans, sans-serif" font-size="10.1" fill="#fff" stroke="#fff" stroke-width="0.2" >158.609</text>
<rect x="1649" y="438" width="1" height="1" fill="#0000ff" shape-rendering="crispEdges"/>
<g shape-rendering="crispEdges">
<rect x="5" y="618" width="1" height="28" fill="#c0c0c0"/>
<rect x="13" y="619" width="1" height="27" fill="#c0c0c0"/>
<rect x="21" y="617" width="1" height="29" fill="#c0c0c0"/>
<rect x="29" y="617" width="1" height="29" fill="#c0c0c0"/>
<rect x="37" y="615" width="1" height="31" fill="#c0c0c0"/>
<rect x="45" y="610" width="1" height="36" fill="#c0c0c0"/>
<rect x="53" y="608" width="1" height="38" fill="#c0c0c0"/>
<rect x="61" y="607" width="1" height="39" fill="#c0c0c0"/>
<rect x="69" y="606" width="1" height="40" fill="#c0c0c0"/>
<rect x="77" y="607" width="1" height="39" fill="#c0c0c0"/>
<rect x="85" y="608" width="1" height="38" fill="#c0c0c0"/>
<rect x="93" y="608" width="1" height="38" fill="#c0c0c0"/>
<rect x="101" y="607" width="1" height="39" fill="#c0c0c0"/>
<rect x="109" y="606" width="1" height="40" fill="#c0c0c0"/>
<rect x="117" y="604" width="1" height="42" fill="#c0c0c0"/>
<rect x="125" y="603" width="1" height="43" fill="#c0c0c0"/>
<rect x="133" y="605" width="1" height="41" fill="#c0c0c0"/>
<rect x="141" y="605" width="1" height="41" fill="#c0c0c0"/>
<rect x="149" y="606" width="1" height="40" fill="#c0c0c0"/>
<rect x="157" y="608" width="1" height="38" fill="#c0c0c0"/>
<rect x="165" y="611" width="1" height="35" fill="#c0c0c0"/>
<rect x="173" y="613" width="1" height="33" fill="#c0c0c0"/>
<rect x="181" y="614" width="1" height="32" fill="#c0c0c0"/>
<rect x="189" y="615" width="1" height="31" fill="#c0c0c0"/>
<rect x="197" y="615" width="1" height="31" fill="#c0c0c0"/>
<rect x="205" y="610" width="1" height="36" fill="#c0c0c0"/>
<rect x="213" y="605" width="1" height="41" fill="#c0c0c0"/>
<rect x="221" y="601" width="1" height="45" fill="#c0c0c0"/>
<rect x="229" y="596" width="1" height="50" fill="#c0c0c0"/>
<rect x="237" y="591" width="1" height="55" fill="#c0c0c0"/>
<rect x="245" y="583" width="1" height="63" fill="#c0c0c0"/>
<rect x="253" y="583" width="1" height="63" fill="#c0c0c0"/>
<rect x="261" y="584" width="1" height="62" fill="#c0c0c0"/>
<rect x="269" y="588" width="1" height="58" fill="#c0c0c0"/>
<rect x="277" y="592" width="1" height="54" fill="#c0c0c0"/>
<rect x="285" y="596" width="1" height="50" fill="#c0c0c0"/>
<rect x="293" y="597" width="1" height="49" fill="#c0c0c0"/>
<rect x="301" y="598" width="1" height="48" fill="#c0c0c0"/>
<rect x="309" y="599" width="1" height="47" fill="#c0c0c0"/>
<rect x="317" y="602" width="1" height="44" fill="#c0c0c0"/>
<rect x="325" y="601" width="1" height="45" fill="#c0c0c0"/>
<rect x="333" y="604" width="1" height="42" fill="#c0c0c0"/>
<rect x="341" y="607" width="1" height="39" fill="#c0c0c0"/>
<rect x="349" y="609" width="1" height="37" fill="#c0c0c0"/>
<rect x="357" y="621" width="1" height="25" fill="#c0c0c0"/>
<rect x="365" y="630" width="1" height="16" fill="#c0c0c0"/>
<rect x="373" y="638" width="1" height="8" fill="#c0c0c0"/>
<rect x="381" y="645" width="1" height="1" fill="#c0c0c0"/>
<rect x="389" y="645" width="1" height="7" fill="#c0c0c0"/>
<rect x="397" y="645" width="1" height="16" fill="#c0c0c0"/>
<rect x="405" y="645" width="1" height="27" fill="#c0c0c0"/>
<rect x="413" y="645" width="1" height="35" fill="#c0c0c0"/>
<rect x="421" y="645" width="1" height="48" fill="#c0c0c0"/>
<rect x="429" y="645" width="1" height="53" fill="#c0c0c0"/>
<rect x="437" y="645" width="1" height="58" fill="#c0c0c0"/>
<rect x="445" y="645" width="1" height="57" fill="#c0c0c0"/>
<rect x="453" y="645" width="1" height="61" fill="#c0c0c0"/>
<rect x="461" y="645" width="1" height="67" fill="#c0c0c0"/>
<rect x="469" y="645" width="1" height="77" fill="#c0c0c0"/>
<rect x="477" y="645" width="1" height="85" fill="#c0c0c0"/>
<rect x="485" y="645" width="1" height="92" fill="#c0c0c0"/>
<rect x="493" y="645" width="1" height="94" fill="#c0c0c0"/>
<rect x="501" y="645" width="1" height="93" fill="#c0c0c0"/>
<rect x="509" y="645" width="1" height="91" fill="#c0c0c0"/>
<rect x="517" y="645" width="1" height="87" fill="#c0c0c0"/>
<rect x="525" y="645" width="1" height="84" fill="#c0c0c0"/>
<rect x="533" y="645" width="1" height="80" fill="#c0c0c0"/>
<rect x="541" y="645" width="1" height="70" fill="#c0c0c0"/>
<rect x="549" y="645" width="1" height="52" fill="#c0c0c0"/>
<rect x="557" y="645" width="1" height="44" fill="#c0c0c0"/>
<rect x="565" y="645" width="1" height="37" fill="#c0c0c0"/>
<rect x="573" y="645" width="1" height="29" fill="#c0c0c0"/>
<rect x="581" y="645" width="1" height="23" fill="#c0c0c0"/>
<rect x="589" y="645" width="1" height="18" fill="#c0c0c0"/>
<rect x="597" y="645" width="1" height="13" fill="#c0c0c0"/>
<rect x="605" y="645" width="1" height="9" fill="#c0c0c0"/>
<rect x="613" y="645" width="1" height="6" fill="#c0c0c0"/>
<rect x="621" y="645" width="1" height="4" fill="#c0c0c0"/>
<rect x="629" y="645" width="1" height="1" fill="#c0c0c0"/>
<rect x="637" y="643" width="1" height="3" fill="#c0c0c0"/>
<rect x="645" y="640" width="1" height="6" fill="#c0c0c0"/>
<rect x="653" y="640" width="1" height="6" fill="#c0c0c0"/>
<rect x="661" y="641" width="1" height="5" fill="#c0c0c0"/>
<rect x="669" y="644" width="1" height="2" fill="#c0c0c0"/>
<rect x="677" y="645" width="1" height="1" fill="#c0c0c0"/>
<rect x="685" y="645" width="1" height="1" fill="#c0c0c0"/>
<rect x="693" y="645" width="1" height="1" fill="#c0c0c0"/>
<rect x="701" y="645" width="1" height="1" fill="#c0c0c0"/>
<rect x="709" y="645" width="1" height="1" fill="#c0c0c0"/>
<rect x="717" y="645" width="1" height="2" fill="#c0c0c0"/>
<rect x="725" y="645" width="1" height="3" fill="#c0c0c0"/>
<rect x="733" y="645" width="1" height="5" fill="#c0c0c0"/>
<rect x="741" y="645" width="1" height="4" fill="#c0c0c0"/>
<rect x="749" y="645" width="1" height="5" fill="#c0c0c0"/>
<rect x="757" y="645" width="1" height="7" fill="#c0c0c0"/>
<rect x="765" y="645" width="1" height="5" fill="#c0c0c0"/>
<rect x="773" y="645" width="1" height="4" fill="#c0c0c0"/>
<rect x="781" y="645" width="1" height="5" fill="#c0c0c0"/>
<rect x="789" y="645" width="1" height="5" fill="#c0c0c0"/>
<rect x="797" y="645" width="1" height="12" fill="#c0c0c0"/>
<rect x="805" y="645" width="1" height="20" fill="#c0c0c0"/>
<rect x="813" y="645" width="1" height="26" fill="#c0c0c0"/>
<rect x="821" y="645" width="1" height="29" fill="#c0c0c0"/>
<rect x="829" y="645" width="1" height="28" fill="#c0c0c0"/>
<rect x="837" y="645" width="1" height="31" fill="#c0c0c0"/>
<rect x="845" y="645" width="1" height="33" fill="#c0c0c0"/>
<rect x="853" y="645" width="1" height="34" fill="#c0c0c0"/>
<rect x="861" y="645" width="1" height="33" fill="#c0c0c0"/>
<rect x="869" y="645" width="1" height="32" fill="#c0c0c0"/>
<rect x="877" y="645" width="1" height="32" fill="#c0c0c0"/>
<rect x="885" y="645" width="1" height="29" fill="#c0c0c0"/>
<rect x="893" y="645" width="1" height="23" fill="#c0c0c0"/>
<rect x="901" y="645" width="1" height="24" fill="#c0c0c0"/>
<rect x="909" y="645" width="1" height="26" fill="#c0c0c0"/>
<rect x="917" y="645" width="1" height="26" fill="#c0c0c0"/>
<rect x="925" y="645" width="1" height="24" fill="#c0c0c0"/>
<rect x="933" y="645" width="1" height="25" fill="#c0c0c0"/>
<rect x="941" y="645" width="1" height="26" fill="#c0c0c0"/>
<rect x="949" y="645" width="1" height="26" fill="#c0c0c0"/>
<rect x="957" y="645" width="1" height="26" fill="#c0c0c0"/>
<rect x="965" y="645" width="1" height="26" fill="#c0c0c0"/>
<rect x="973" y="645" width="1" height="25" fill="#c0c0c0"/>
<rect x="981" y="645" width="1" height="25" fill="#c0c0c0"/>
<rect x="989" y="645" width="1" height="25" fill="#c0c0c0"/>
<rect x="997" y="645" width="1" height="24" fill="#c0c0c0"/>
<rect x="1005" y="645" width="1" height="30" fill="#c0c0c0"/>
<rect x="1013" y="645" width="1" height="35" fill="#c0c0c0"/>
<rect x="1021" y="645" width="1" height="41" fill="#c0c0c0"/>
<rect x="1029" y="645" width="1" height="51" fill="#c0c0c0"/>
<rect x="1037" y="645" width="1" height="63" fill="#c0c0c0"/>
<rect x="1045" y="645" width="1" height="73" fill="#c0c0c0"/>
<rect x="1053" y="645" width="1" height="78" fill="#c0c0c0"/>
<rect x="1061" y="645" width="1" height="80" fill="#c0c0c0"/>
<rect x="1069" y="645" width="1" height="76" fill="#c0c0c0"/>
<rect x="1077" y="645" width="1" height="74" fill="#c0c0c0"/>
<rect x="1085" y="645" width="1" height="72" fill="#c0c0c0"/>
<rect x="1093" y="645" width="1" height="64" fill="#c0c0c0"/>
<rect x="1101" y="645" width="1" height="57" fill="#c0c0c0"/>
<rect x="1109" y="645" width="1" height="49" fill="#c0c0c0"/>
<rect x="1117" y="645" width="1" height="47" fill="#c0c0c0"/>
<rect x="1125" y="645" width="1" height="43" fill="#c0c0c0"/>
<rect x="1133" y="645" width="1" height="36" fill="#c0c0c0"/>
<rect x="1141" y="645" width="1" height="32" fill="#c0c0c0"/>
<rect x="1149" y="645" width="1" height="25" fill="#c0c0c0"/>
<rect x="1157" y="645" width="1" height="20" fill="#c0c0c0"/>
<rect x="1165" y="645" width="1" height="13" fill="#c0c0c0"/>
<rect x="1173" y="645" width="1" height="1" fill="#c0c0c0"/>
<rect x="1181" y="633" width="1" height="13" fill="#c0c0c0"/>
<rect x="1189" y="624" width="1" height="22" fill="#c0c0c0"/>
<rect x="1197" y="616" width="1" height="30" fill="#c0c0c0"/>
<rect x="1205" y="609" width="1" height="37" fill="#c0c0c0"/>
<rect x="1213" y="607" width="1" height="39" fill="#c0c0c0"/>
<rect x="1221" y="610" width="1" height="36" fill="#c0c0c0"/>
<rect x="1229" y="612" width="1" height="34" fill="#c0c0c0"/>
<rect x="1237" y="622" width="1" height="24" fill="#c0c0c0"/>
<rect x="1245" y="633" width="1" height="13" fill="#c0c0c0"/>
<rect x="1253" y="644" width="1" height="2" fill="#c0c0c0"/>
<rect x="1261" y="645" width="1" height="1" fill="#c0c0c0"/>
<rect x="1269" y="645" width="1" height="3" fill="#c0c0c0"/>
<rect x="1277" y="645" width="1" height="3" fill="#c0c0c0"/>
<rect x="1285" y="645" width="1" height="3" fill="#c0c0c0"/>
<rect x="1293" y="645" width="1" height="1" fill="#c0c0c0"/>
<rect x="1301" y="645" width="1" height="2" fill="#c0c0c0"/>
<rect x="1309" y="645" width="1" height="3" fill="#c0c0c0"/>
<rect x="1317" y="645" width="1" height="1" fill="#c0c0c0"/>
<rect x="1325" y="645" width="1" height="1" fill="#c0c0c0"/>
<rect x="1333" y="645" width="1" height="1" fill="#c0c0c0"/>
<rect x="1341" y="645" width="1" height="1" fill="#c0c0c0"/>
<rect x="1349" y="643" width="1" height="3" fill="#c0c0c0"/>
<rect x="1357" y="642" width="1" height="4" fill="#c0c0c0"/>
<rect x="1365" y="639" width="1" height="7" fill="#c0c0c0"/>
<rect x="1373" y="635" width="1" height="11" fill="#c0c0c0"/>
<rect x="1381" y="632" width="1" height="14" fill="#c0c0c0"/>
<rect x="1389" y="627" width="1" height="19" fill="#c0c0c0"/>
<rect x="1397" y="625" width="1" height="21" fill="#c0c0c0"/>
<rect x="1405" y="626" width="1" height="20" fill="#c0c0c0"/>
<path d="M1.5,613.1 L2.5,613.2 L3.5,613.2 M7.5,613.3 L8.5,613.3 L9.5,613.4 M13.5,613.5 L14.5,613.5 L15.5,613.6 M19.5,613.7 L20.5,613.7 L21.5,613.9 M25.5,614.6 L26.5,614.8 L27.5,614.9 M31.5,615.1 L32.5,615.0 L33.5,615.0 M37.5,615.0 L38.5,614.9 L39.5,614.9 M43.5,614.9 L44.5,614.9 L45.5,614.8 M49.5,614.8 L50.5,614.8 L51.5,614.7 M55.5,614.6 L56.5,614.5 L57.5,614.4 M61.5,613.9 L62.5,613.8 L63.5,613.7 M67.5,613.2 L68.5,613.1 L69.5,613.0 M73.5,612.5 L74.5,612.4 L75.5,612.3 M79.5,611.8 L80.5,611.7 L81.5,611.5 M85.5,610.8 L86.5,610.6 L87.5,610.4 M91.5,609.7 L92.5,609.5 L93.5,609.3 M97.5,608.6 L98.5,608.4 L99.5,608.2 M103.5,607.5 L104.5,607.3 L105.5,607.2 M109.5,606.9 L110.5,606.9 L111.5,606.8 M115.5,606.6 L116.5,606.5 L117.5,606.4 M121.5,606.2 L122.5,606.1 L123.5,606.1 M127.5,606.0 L128.5,606.0 L129.5,606.0 M133.5,606.0 L134.5,606.0 L135.5,606.0 M139.5,606.0 L140.5,606.0 L141.5,606.0 M145.5,606.0 L146.5,606.0 L147.5,606.0 M151.5,606.0 L152.5,606.0 L153.5,606.0 M157.5,606.0 L158.5,606.0 L159.5,606.0 M163.5,606.0 L164.5,606.0 L165.5,606.0 M169.5,606.3 L170.5,606.4 L171.5,606.5 M175.5,606.9 L176.5,607.1 L177.5,607.2 M181.5,607.6 L182.5,607.8 L183.5,608.0 M187.5,608.6 L188.5,608.7 L189.5,608.9 M193.5,609.5 L194.5,609.7 L195.5,609.8 M199.5,610.4 L200.5,610.6 L201.5,610.7 M205.5,610.6 L206.5,610.5 L207.5,610.5 M211.5,610.4 L212.5,610.4 L213.5,610.3 M217.5,610.2 L218.5,610.2 L219.5,610.2 M223.5,609.7 L224.5,609.5 L225.5,609.3 M229.5,608.5 L230.5,608.3 L231.5,608.2 M235.5,607.4 L236.5,607.2 L237.5,607.0 M241.5,605.2 L242.5,604.8 L243.5,604.3 M247.5,602.5 L248.5,602.1 L249.5,601.6 M253.5,599.9 L254.5,599.5 L255.5,599.1 M259.5,597.4 L260.5,597.0 L261.5,596.6 M265.5,595.2 L266.5,594.9 L267.5,594.5 M271.5,593.1 L272.5,592.8 L273.5,592.4 M277.5,591.0 L278.5,590.9 L279.5,590.8 M283.5,590.5 L284.5,590.4 L285.5,590.3 M289.5,590.0 L290.5,590.0 L291.5,590.0 M295.5,590.0 L296.5,590.0 L297.5,590.0 M301.5,590.0 L302.5,590.0 L303.5,590.0 M307.5,590.2 L308.5,590.4 L309.5,590.5 M313.5,591.0 L314.5,591.2 L315.5,591.3 M319.5,592.2 L320.5,592.6 L321.5,593.0 M325.5,594.5 L326.5,594.7 L327.5,595.0 M331.5,595.8 L332.5,596.1 L333.5,596.3 M337.5,597.3 L338.5,597.5 L339.5,597.8 M343.5,598.9 L344.5,599.2 L345.5,599.5 M349.5,600.7 L350.5,601.0 L351.5,601.4 M355.5,603.0 L356.5,603.5 L357.5,603.9 M361.5,605.5 L362.5,606.0 L363.5,606.5 M367.5,608.7 L368.5,609.3 L369.5,609.8 M373.5,612.0 L374.5,612.6 L375.5,613.3 M379.5,616.1 L380.5,616.8 L381.5,617.5 M385.5,620.3 L386.5,620.9 L387.5,621.6 M391.5,624.4 L392.5,625.1 L393.5,625.8 M397.5,629.2 L398.5,630.1 L399.5,631.0 M403.5,634.6 L404.5,635.5 L405.5,636.5 M409.5,640.5 L410.5,641.5 L411.5,642.5 M415.5,646.7 L416.5,647.9 L417.5,649.1 M421.5,654.1 L422.5,655.3 L423.5,656.5 M427.5,661.0 L428.5,662.2 L429.5,663.3 M433.5,667.5 L434.5,668.5 L435.5,669.5 M439.5,673.5 L440.5,674.4 L441.5,675.3 M445.5,679.1 L446.5,680.0 L447.5,680.9 M451.5,684.3 L452.5,685.2 L453.5,686.0 M457.5,689.4 L458.5,690.1 L459.5,690.9 M463.5,694.0 L464.5,694.7 L465.5,695.4 M469.5,698.3 L470.5,699.0 L471.5,699.8 M475.5,703.2 L476.5,704.1 L477.5,705.0 M481.5,708.3 L482.5,709.1 L483.5,709.9 M487.5,712.9 L488.5,713.4 L489.5,713.8 M493.5,715.8 L494.5,716.3 L495.5,717.1 M499.5,720.2 L500.5,721.0 L501.5,721.6 M505.5,722.9 L506.5,723.2 L507.5,723.5 M511.5,725.4 L512.5,725.9 L513.5,726.5 M517.5,728.6 L518.5,728.8 L519.5,729.0 M523.5,729.7 L524.5,729.9 L525.5,730.2 M529.5,731.5 L530.5,731.8 L531.5,732.1 M535.5,732.4 L536.5,732.3 L537.5,732.2 M541.5,731.6 L542.5,731.4 L543.5,731.1 M547.5,730.0 L548.5,729.7 L549.5,729.4 M553.5,726.5 L554.5,725.8 L555.5,725.0 M559.5,721.5 L560.5,720.6 L561.5,719.8 M565.5,716.7 L566.5,716.0 L567.5,715.4 M571.5,712.7 L572.5,711.7 L573.5,710.8 M577.5,706.9 L578.5,706.0 L579.5,705.0 M583.5,701.0 L584.5,700.0 L585.5,699.0 M589.5,695.1 L590.5,694.2 L591.5,693.2 M595.5,689.5 L596.5,688.5 L597.5,687.5 M601.5,683.6 L602.5,682.6 L603.5,681.6 M607.5,677.8 L608.5,676.8 L609.5,675.9 M613.5,672.3 L614.5,671.4 L615.5,670.5 M619.5,667.1 L620.5,666.4 L621.5,665.7 M625.5,663.1 L626.5,662.4 L627.5,661.8 M631.5,659.5 L632.5,659.0 L633.5,658.6 M637.5,656.8 L638.5,656.3 L639.5,655.9 M643.5,654.1 L644.5,653.6 L645.5,653.2 M649.5,651.3 L650.5,650.9 L651.5,650.5 M655.5,648.9 L656.5,648.5 L657.5,648.1 M661.5,646.9 L662.5,646.8 L663.5,646.6 M667.5,646.0 L668.5,645.8 L669.5,645.7 M673.5,645.1 L674.5,645.0 L675.5,645.0 M679.5,644.6 L680.5,644.5 L681.5,644.5 M685.5,644.2 L686.5,644.2 L687.5,644.2 M691.5,644.2 L692.5,644.2 L693.5,644.2 M697.5,644.2 L698.5,644.2 L699.5,644.2 M703.5,644.2 L704.5,644.2 L705.5,644.2 M709.5,644.2 L710.5,644.2 L711.5,644.2 M715.5,644.8 L716.5,645.0 L717.5,645.2 M721.5,645.9 L722.5,646.1 L723.5,646.3 M727.5,646.9 L728.5,647.1 L729.5,647.3 M733.5,647.8 L734.5,647.9 L735.5,648.0 M739.5,648.2 L740.5,648.3 L741.5,648.3 M745.5,648.6 L746.5,648.7 L747.5,648.7 M751.5,649.2 L752.5,649.3 L753.5,649.5 M757.5,650.0 L758.5,650.2 L759.5,650.3 M763.5,650.8 L764.5,650.8 L765.5,650.8 M769.5,650.8 L770.5,650.8 L771.5,650.8 M775.5,650.8 L776.5,650.8 L777.5,650.8 M781.5,650.8 L782.5,650.8 L783.5,650.9 M787.5,651.4 L788.5,651.5 L789.5,651.6 M793.5,652.2 L794.5,652.3 L795.5,652.4 M799.5,653.0 L800.5,653.1 L801.5,653.3 M805.5,653.9 L806.5,654.2 L807.5,654.5 M811.5,655.7 L812.5,656.0 L813.5,656.3 M817.5,657.4 L818.5,657.7 L819.5,657.9 M823.5,659.0 L824.5,659.4 L825.5,659.8 M829.5,661.4 L830.5,661.8 L831.5,662.2 M835.5,663.7 L836.5,664.0 L837.5,664.3 M841.5,665.7 L842.5,666.0 L843.5,666.3 M847.5,667.8 L848.5,668.2 L849.5,668.6 M853.5,670.2 L854.5,670.6 L855.5,671.0 M859.5,672.6 L860.5,673.0 L861.5,673.4 M865.5,674.9 L866.5,675.2 L867.5,675.4 M871.5,676.4 L872.5,676.7 L873.5,676.9 M877.5,677.9 L878.5,677.9 L879.5,677.9 M883.5,677.9 L884.5,677.9 L885.5,677.9 M889.5,677.6 L890.5,677.5 L891.5,677.3 M895.5,676.8 L896.5,676.6 L897.5,676.5 M901.5,676.3 L902.5,676.3 L903.5,676.3 M907.5,676.1 L908.5,676.1 L909.5,676.0 M913.5,675.9 L914.5,675.8 L915.5,675.8 M919.5,675.3 L920.5,675.0 L921.5,674.8 M925.5,673.9 L926.5,673.9 L927.5,673.8 M931.5,673.7 L932.5,673.7 L933.5,673.6 M937.5,673.5 L938.5,673.4 L939.5,673.3 M943.5,672.8 L944.5,672.6 L945.5,672.5 M949.5,672.5 L950.5,672.5 L951.5,672.4 M955.5,672.4 L956.5,672.4 L957.5,672.4 M961.5,672.4 L962.5,672.3 L963.5,672.3 M967.5,672.3 L968.5,672.3 L969.5,672.3 M973.5,672.3 L974.5,672.2 L975.5,672.2 M979.5,672.2 L980.5,672.2 L981.5,672.2 M985.5,672.1 L986.5,672.1 L987.5,672.1 M991.5,672.1 L992.5,672.0 L993.5,672.0 M997.5,671.9 L998.5,671.9 L999.5,672.1 M1003.5,672.8 L1004.5,672.9 L1005.5,673.1 M1009.5,673.5 L1010.5,673.6 L1011.5,673.7 M1015.5,674.1 L1016.5,674.1 L1017.5,674.2 M1021.5,674.8 L1022.5,675.2 L1023.5,675.6 M1027.5,677.0 L1028.5,677.4 L1029.5,677.7 M1033.5,679.4 L1034.5,680.0 L1035.5,680.6 M1039.5,682.9 L1040.5,683.5 L1041.5,684.1 M1045.5,686.6 L1046.5,687.3 L1047.5,688.1 M1051.5,691.1 L1052.5,691.8 L1053.5,692.5 M1057.5,695.5 L1058.5,696.3 L1059.5,697.0 M1063.5,700.0 L1064.5,700.8 L1065.5,701.5 M1069.5,704.5 L1070.5,705.2 L1071.5,705.9 M1075.5,708.7 L1076.5,709.4 L1077.5,710.1 M1081.5,712.1 L1082.5,712.5 L1083.5,712.8 M1087.5,714.2 L1088.5,714.4 L1089.5,714.6 M1093.5,715.4 L1094.5,715.6 L1095.5,715.8 M1099.5,716.4 L1100.5,716.3 L1101.5,716.1 M1105.5,715.6 L1106.5,715.4 L1107.5,715.3 M1111.5,714.5 L1112.5,714.3 L1113.5,714.0 M1117.5,713.1 L1118.5,712.8 L1119.5,712.4 M1123.5,710.2 L1124.5,709.6 L1125.5,709.0 M1129.5,706.7 L1130.5,706.1 L1131.5,705.4 M1135.5,702.7 L1136.5,702.1 L1137.5,701.4 M1141.5,698.8 L1142.5,698.1 L1143.5,697.5 M1147.5,695.1 L1148.5,694.5 L1149.5,693.9 M1153.5,691.4 L1154.5,690.5 L1155.5,689.7 M1159.5,686.5 L1160.5,685.7 L1161.5,684.9 M1165.5,681.7 L1166.5,680.9 L1167.5,680.2 M1171.5,677.2 L1172.5,676.4 L1173.5,675.7 M1177.5,672.6 L1178.5,671.7 L1179.5,670.8 M1183.5,667.2 L1184.5,666.3 L1185.5,665.4 M1189.5,661.7 L1190.5,660.7 L1191.5,659.7 M1195.5,655.6 L1196.5,654.6 L1197.5,653.6 M1201.5,649.6 L1202.5,648.6 L1203.5,647.6 M1207.5,643.7 L1208.5,642.7 L1209.5,641.7 M1213.5,637.7 L1214.5,636.8 L1215.5,635.9 M1219.5,632.2 L1220.5,631.3 L1221.5,630.4 M1225.5,627.1 L1226.5,626.4 L1227.5,625.7 M1231.5,622.7 L1232.5,622.3 L1233.5,621.9 M1237.5,620.1 L1238.5,619.7 L1239.5,619.3 M1243.5,619.3 L1244.5,619.3 L1245.5,619.3 M1249.5,619.3 L1250.5,619.3 L1251.5,619.3 M1255.5,619.3 L1256.5,619.7 L1257.5,620.1 M1261.5,621.9 L1262.5,622.3 L1263.5,622.8 M1267.5,624.7 L1268.5,625.2 L1269.5,625.7 M1273.5,627.7 L1274.5,628.2 L1275.5,628.7 M1279.5,630.7 L1280.5,631.2 L1281.5,631.7 M1285.5,633.7 L1286.5,634.2 L1287.5,634.7 M1291.5,636.7 L1292.5,637.2 L1293.5,637.7 M1297.5,639.7 L1298.5,640.2 L1299.5,640.7 M1303.5,642.7 L1304.5,643.2 L1305.5,643.7 M1309.5,645.7 L1310.5,646.2 L1311.5,646.7 M1315.5,647.2 L1316.5,647.3 L1317.5,647.4 M1321.5,647.8 L1322.5,647.8 L1323.5,647.8 M1327.5,647.8 L1328.5,647.8 L1329.5,647.8 M1333.5,647.8 L1334.5,647.8 L1335.5,647.8 M1339.5,647.8 L1340.5,647.8 L1341.5,647.8 M1345.5,647.4 L1346.5,647.3 L1347.5,647.1 M1351.5,646.6 L1352.5,646.4 L1353.5,646.3 M1357.5,645.9 L1358.5,645.8 L1359.5,645.7 M1363.5,645.3 L1364.5,645.2 L1365.5,645.1 M1369.5,644.6 L1370.5,644.4 L1371.5,644.1 M1375.5,643.1 L1376.5,642.9 L1377.5,642.6 M1381.5,641.6 L1382.5,641.3 L1383.5,641.1 M1387.5,640.0 L1388.5,639.7 L1389.5,639.4 M1393.5,638.3 L1394.5,638.1 L1395.5,637.8 M1399.5,636.0 L1400.5,635.5 L1401.5,635.0" fill="none" stroke="#ff0000" stroke-width="1" stroke-linecap="square"/>
</g>
<text transform="translate(-7,586) scale(0.945,1)" font-family="Liberation Sans, sans-serif" font-size="10.1" fill="#000" stroke="#000" stroke-width="0.18" >MACD(12,26,9) 0.3446 0.1686</text>
<g shape-rendering="crispEdges">
<line x1="2" y1="785.5" x2="1648" y2="785.5" stroke="#c0c0c0" stroke-width="1" stroke-dasharray="3,3"/>
<line x1="2" y1="836.5" x2="1648" y2="836.5" stroke="#c0c0c0" stroke-width="1" stroke-dasharray="3,3"/>
<line x1="2" y1="897.5" x2="1648" y2="897.5" stroke="#c0c0c0" stroke-width="1" stroke-dasharray="3,3"/>
<polyline points="0.0,823.3 5.5,821.3 13.5,815.3 21.5,805.6 29.5,815.3 37.5,805.2 45.5,796.2 53.5,805.2 61.5,805.2 69.5,804.2 77.5,808.8 85.5,811.7 93.5,805.2 101.5,803.2 109.5,799.2 117.5,795.2 125.5,799.2 133.5,810.2 141.5,806.8 149.5,803.2 157.5,814.3 165.5,823.3 173.5,817.3 181.5,817.3 189.5,815.3 197.5,809.2 205.5,794.2 213.5,790.2 221.5,788.2 229.5,785.1 237.5,782.1 245.5,776.5 253.5,804.2 261.5,806.8 269.5,815.3 277.5,818.3 285.5,818.3 293.5,811.3 301.5,809.2 309.5,809.2 317.5,817.3 325.5,807.2 333.5,822.3 341.5,820.3 349.5,821.3 357.5,855.8 365.5,852.4 373.5,853.4 381.5,860.0 389.5,858.0 397.5,865.5 405.5,874.1 413.5,875.5 421.5,884.1 429.5,866.5 437.5,869.5 445.5,857.4 453.5,865.1 461.5,871.5 469.5,878.1 477.5,879.5 485.5,881.5 493.5,871.9 501.5,868.1 509.5,867.1 517.5,864.5 525.5,865.5 533.5,863.5 541.5,842.4 549.5,823.7 557.5,838.4 565.5,836.0 573.5,832.3 581.5,834.3 589.5,833.3 597.5,831.3 605.5,832.3 613.5,833.3 621.5,834.3 629.5,829.7 637.5,826.3 645.5,826.3 653.5,834.9 661.5,837.0 669.5,844.4 677.5,844.4 685.5,840.0 693.5,832.3 701.5,840.4 709.5,842.0 717.5,844.4 725.5,843.4 733.5,847.0 741.5,839.4 749.5,844.4 757.5,849.4 765.5,835.3 773.5,832.3 781.5,845.4 789.5,840.4 797.5,863.1 805.5,867.1 813.5,867.5 821.5,859.0 829.5,850.4 837.5,860.4 845.5,857.4 853.5,856.4 861.5,854.4 869.5,851.4 877.5,854.4 885.5,848.4 893.5,832.3 901.5,851.4 909.5,854.4 917.5,849.4 925.5,844.4 933.5,852.0 941.5,853.4 949.5,855.4 957.5,849.4 965.5,852.4 973.5,844.4 981.5,850.4 989.5,851.4 997.5,852.4 1005.5,869.5 1013.5,872.5 1021.5,873.5 1029.5,886.2 1037.5,889.2 1045.5,892.2 1053.5,882.5 1061.5,874.9 1069.5,860.0 1077.5,863.1 1085.5,864.5 1093.5,847.8 1101.5,845.8 1109.5,841.4 1117.5,853.4 1125.5,847.0 1133.5,837.0 1141.5,841.0 1149.5,831.9 1157.5,834.3 1165.5,825.7 1173.5,811.9 1181.5,807.2 1189.5,810.7 1197.5,807.6 1205.5,806.2 1213.5,817.9 1221.5,829.3 1229.5,828.3 1237.5,847.4 1245.5,854.0 1253.5,857.4 1261.5,837.4 1269.5,844.4 1277.5,841.4 1285.5,835.3 1293.5,835.3 1301.5,839.4 1309.5,844.4 1317.5,834.3 1325.5,833.3 1333.5,833.3 1341.5,837.4 1349.5,830.3 1357.5,832.3 1365.5,826.3 1373.5,823.3 1381.5,820.3 1389.5,818.3 1397.5,819.3 1405.5,817.3" fill="none" stroke="#1e90ff" stroke-width="1"/>
</g>
<text transform="translate(-7.6,762) scale(0.935,1)" font-family="Liberation Sans, sans-serif" font-size="10.1" fill="#000" stroke="#000" stroke-width="0.18" >RSI(14) 60.1015</text>
<line x1="1258.0" y1="464.5" x2="1421.3" y2="346.1" stroke="#ff0000" stroke-width="3.2" stroke-linecap="butt"/>
<polygon points="1429.0,340.5 1423.6,349.2 1419.0,342.9" fill="#ff0000"/>
<line x1="1315.0" y1="642.7" x2="1407.6" y2="628.3" stroke="#ff0000" stroke-width="3.2" stroke-linecap="butt"/>
<polygon points="1417.0,626.8 1408.2,632.1 1407.0,624.4" fill="#ff0000"/>
<line x1="1313.0" y1="838.4" x2="1435.7" y2="812.7" stroke="#ff0000" stroke-width="3.2" stroke-linecap="butt"/>
<polygon points="1445.0,810.7 1436.5,816.5 1434.9,808.8" fill="#ff0000"/>
<text transform="translate(-11,936) scale(0.95,1)" font-family="Liberation Sans, sans-serif" font-size="10.1" fill="#000" stroke="#000" stroke-width="0.18" >12 Apr 2022</text>
<rect x="53" y="924" width="1" height="3" shape-rendering="crispEdges"/>
<text transform="translate(53,936) scale(0.95,1)" font-family="Liberation Sans, sans-serif" font-size="10.1" fill="#000" stroke="#000" stroke-width="0.18" >13 Apr 20:00</text>
<rect x="117" y="924" width="1" height="3" shape-rendering="crispEdges"/>
<text transform="translate(117,936) scale(0.95,1)" font-family="Liberation Sans, sans-serif" font-size="10.1" fill="#000" stroke="#000" stroke-width="0.18" >15 Apr 04:00</text>
<rect x="181" y="924" width="1" height="3" shape-rendering="crispEdges"/>
<text transform="translate(181,936) scale(0.95,1)" font-family="Liberation Sans, sans-serif" font-size="10.1" fill="#000" stroke="#000" stroke-width="0.18" >18 Apr 12:00</text>
<rect x="245" y="924" width="1" height="3" shape-rendering="crispEdges"/>
<text transform="translate(245,936) scale(0.95,1)" font-family="Liberation Sans, sans-serif" font-size="10.1" fill="#000" stroke="#000" stroke-width="0.18" >19 Apr 20:00</text>
<rect x="309" y="924" width="1" height="3" shape-rendering="crispEdges"/>
<text transform="translate(309,936) scale(0.95,1)" font-family="Liberation Sans, sans-serif" font-size="10.1" fill="#000" stroke="#000" stroke-width="0.18" >21 Apr 04:00</text>
<rect x="373" y="924" width="1" height="3" shape-rendering="crispEdges"/>
<text transform="translate(373,936) scale(0.95,1)" font-family="Liberation Sans, sans-serif" font-size="10.1" fill="#000" stroke="#000" stroke-width="0.18" >22 Apr 12:00</text>
<rect x="437" y="924" width="1" height="3" shape-rendering="crispEdges"/>
<text transform="translate(437,936) scale(0.95,1)" font-family="Liberation Sans, sans-serif" font-size="10.1" fill="#000" stroke="#000" stroke-width="0.18" >25 Apr 20:00</text>
<rect x="501" y="924" width="1" height="3" shape-rendering="crispEdges"/>
<text transform="translate(501,936) scale(0.95,1)" font-family="Liberation Sans, sans-serif" font-size="10.1" fill="#000" stroke="#000" stroke-width="0.18" >27 Apr 04:00</text>
<rect x="565" y="924" width="1" height="3" shape-rendering="crispEdges"/>
<text transform="translate(565,936) scale(0.95,1)" font-family="Liberation Sans, sans-serif" font-size="10.1" fill="#000" stroke="#000" stroke-width="0.18" >28 Apr 12:00</text>
<rect x="629" y="924" width="1" height="3" shape-rendering="crispEdges"/>
<text transform="translate(629,936) scale(0.95,1)" font-family="Liberation Sans, sans-serif" font-size="10.1" fill="#000" stroke="#000" stroke-width="0.18" >1 May 23:00</text>
<rect x="693" y="924" width="1" height="3" shape-rendering="crispEdges"/>
<text transform="translate(693,936) scale(0.95,1)" font-family="Liberation Sans, sans-serif" font-size="10.1" fill="#000" stroke="#000" stroke-width="0.18" >3 May 04:00</text>
<rect x="757" y="924" width="1" height="3" shape-rendering="crispEdges"/>
<text transform="translate(757,936) scale(0.95,1)" font-family="Liberation Sans, sans-serif" font-size="10.1" fill="#000" stroke="#000" stroke-width="0.18" >4 May 12:00</text>
<rect x="821" y="924" width="1" height="3" shape-rendering="crispEdges"/>
<text transform="translate(821,936) scale(0.95,1)" font-family="Liberation Sans, sans-serif" font-size="10.1" fill="#000" stroke="#000" stroke-width="0.18" >5 May 20:00</text>
<rect x="885" y="924" width="1" height="3" shape-rendering="crispEdges"/>
<text transform="translate(885,936) scale(0.95,1)" font-family="Liberation Sans, sans-serif" font-size="10.1" fill="#000" stroke="#000" stroke-width="0.18" >9 May 04:00</text>
<rect x="949" y="924" width="1" height="3" shape-rendering="crispEdges"/>
<text transform="translate(949,936) scale(0.95,1)" font-family="Liberation Sans, sans-serif" font-size="10.1" fill="#000" stroke="#000" stroke-width="0.18" >10 May 12:00</text>
<rect x="1013" y="924" width="1" height="3" shape-rendering="crispEdges"/>
<text transform="translate(1013,936) scale(0.95,1)" font-family="Liberation Sans, sans-serif" font-size="10.1" fill="#000" stroke="#000" stroke-width="0.18" >11 May 20:00</text>
<rect x="1077" y="924" width="1" height="3" shape-rendering="crispEdges"/>
<text transform="translate(1077,936) scale(0.95,1)" font-family="Liberation Sans, sans-serif" font-size="10.1" fill="#000" stroke="#000" stroke-width="0.18" >13 May 04:00</text>
<rect x="1141" y="924" width="1" height="3" shape-rendering="crispEdges"/>
<text transform="translate(1141,936) scale(0.95,1)" font-family="Liberation Sans, sans-serif" font-size="10.1" fill="#000" stroke="#000" stroke-width="0.18" >16 May 12:00</text>
<rect x="1205" y="924" width="1" height="3" shape-rendering="crispEdges"/>
<text transform="translate(1205,936) scale(0.95,1)" font-family="Liberation Sans, sans-serif" font-size="10.1" fill="#000" stroke="#000" stroke-width="0.18" >17 May 20:00</text>
<rect x="1269" y="924" width="1" height="3" shape-rendering="crispEdges"/>
<text transform="translate(1269,936) scale(0.95,1)" font-family="Liberation Sans, sans-serif" font-size="10.1" fill="#000" stroke="#000" stroke-width="0.18" >19 May 04:00</text>
<rect x="1333" y="924" width="1" height="3" shape-rendering="crispEdges"/>
<text transform="translate(1333,936) scale(0.95,1)" font-family="Liberation Sans, sans-serif" font-size="10.1" fill="#000" stroke="#000" stroke-width="0.18" >20 May 12:00</text>
<rect x="1397" y="924" width="1" height="3" shape-rendering="crispEdges"/>
<text transform="translate(1397,936) scale(0.95,1)" font-family="Liberation Sans, sans-serif" font-size="10.1" fill="#000" stroke="#000" stroke-width="0.18" >23 May 20:00</text>
<text transform="translate(4.3,34.5) scale(0.918,1)" font-family="Liberation Sans, sans-serif" font-size="10.1" fill="#000" stroke="#000" stroke-width="0.18" xml:space="preserve">GBPJPY-,H4  160.771 160.819 160.757 160.790</text>
<g>
<rect x="43" y="42" width="117" height="24" fill="#f0f0f0"/>
<rect x="0" y="42" width="44" height="24" fill="url(#gTop)"/>
<rect x="159" y="42" width="52" height="24" fill="url(#gTop)"/>
<rect x="0" y="66" width="101" height="33" fill="url(#gBot)"/>
<rect x="103" y="66" width="108" height="33" fill="url(#gBot)"/>
<rect x="0" y="65" width="40" height="1" fill="#f58a8a"/>
<rect x="163" y="65" width="44" height="1" fill="#f58a8a"/>
<rect x="0" y="42" width="44" height="1" fill="#c83030"/><rect x="159" y="42" width="52" height="1" fill="#c83030"/>
<rect x="43" y="42" width="1" height="24" fill="#c02020"/><rect x="159" y="42" width="1" height="24" fill="#c02020"/><rect x="210" y="42" width="1" height="57" fill="#b01818"/>
<rect x="46.5" y="42.5" width="110" height="21" fill="#fff" stroke="#b4b4b4"/>
<rect x="47.5" y="43.5" width="20" height="19" fill="url(#gBtn)" stroke="#bcbcbc"/>
<rect x="135.5" y="43.5" width="20" height="19" fill="url(#gBtn)" stroke="#bcbcbc"/>
<polygon points="53.5,51 59.5,51 56.5,54.5" fill="#4a62c8"/>
<polygon points="142.5,54.5 148.500,54.5 145.5,51" fill="#4a62c8"/>
<text x="131.8" y="56.8" font-family="Liberation Sans, sans-serif" font-size="12" fill="#202020" text-anchor="end">1.00</text>
<text x="4.2" y="57.2" font-family="Liberation Sans, sans-serif" font-size="11.6" fill="#fff" textLength="25.4" lengthAdjust="spacingAndGlyphs">SELL</text>
<text x="172.6" y="57.2" font-family="Liberation Sans, sans-serif" font-size="11.6" fill="#fff" textLength="23" lengthAdjust="spacingAndGlyphs">BUY</text>
<text x="15.6" y="94" font-family="Liberation Sans, sans-serif" font-size="12" font-weight="bold" fill="#fff">160</text>
<text x="39" y="94.3" font-family="Liberation Sans, sans-serif" font-size="33" fill="#fff" textLength="37" lengthAdjust="spacingAndGlyphs">79</text>
<text x="79" y="77.8" font-family="Liberation Sans, sans-serif" font-size="11" font-weight="bold" fill="#fff">0</text>
<text x="125.3" y="94" font-family="Liberation Sans, sans-serif" font-size="12" font-weight="bold" fill="#fff">160</text>
<text x="149.6" y="94.3" font-family="Liberation Sans, sans-serif" font-size="33" fill="#fff" textLength="37" lengthAdjust="spacingAndGlyphs">86</text>
<text x="190.2" y="77.8" font-family="Liberation Sans, sans-serif" font-size="11" font-weight="bold" fill="#fff">8</text>
</g>
<rect x="0" y="0" width="1695" height="17" fill="#f0f0f0"/><rect x="0" y="17" width="1695" height="1" fill="#f6f6f6"/>
<rect x="0" y="18" width="1695" height="1" fill="#a3a3a3"/><rect x="0" y="19" width="1695" height="1" fill="#686868"/>
<rect x="1694" y="20" width="1" height="916" fill="#e3e3e3"/>
<rect x="1693" y="20" width="1" height="916" fill="#f4f4f4"/>
<g clip-path="url(#cTb)"><g font-family="DejaVu Sans, Liberation Sans, sans-serif" font-size="11.8" fill="#000">
<text x="38.6" y="8.8" textLength="64.2" lengthAdjust="spacingAndGlyphs">New Order</text>
<text x="219.4" y="8.8" textLength="71" lengthAdjust="spacingAndGlyphs">AutoTrading</text>
</g>
<!-- left partial icon + separator -->
<circle cx="0" cy="13.5" r="1.8" fill="#e8a020"/>
<rect x="9" y="0" width="1" height="16" fill="#a8a8a8"/>
<!-- New order icon -->
<path d="M19.5,-2 H28 L31.5,1.5 V11.5 H19.5 Z" fill="#fff" stroke="#909090" stroke-width="1"/>
<rect x="21.5" y="0" width="3" height="2" fill="#707070"/><rect x="21.500" y="4" width="6" height="1" fill="#a0a0a0"/><rect x="21.500" y="6" width="4" height="1" fill="#a0a0a0"/>
<path d="M26.500,4.500 h4 v4 h4 v4 h-4 v4 h-4 v-4 h-4 v-4 h4 z" fill="#2fd12f" stroke="#0a8f0a" stroke-width="1"/>
<!-- book icon -->
<path d="M119.700,-1 L123.600,-1 L130.700,7 L123,13.600 L115.100,8.100 Z" fill="url(#gGold)" stroke="#b07808" stroke-width="0.900"/>
<path d="M116.500,9.300 L123,13 L130,7.200" fill="none" stroke="#fff0b0" stroke-width="0.900"/>
<path d="M115.300,8.300 L123,13.500 L130.600,7.100" fill="none" stroke="#9a6806" stroke-width="0.900"/>
<path d="M119.500,2 L126,9" stroke="#ffe98a" stroke-width="1.200" opacity="0.700"/>
<!-- cloud icon -->
<rect x="145.500" y="-2" width="10.500" height="9" fill="#2a9af0" stroke="#1a7ad8" stroke-width="1"/>
<rect x="148" y="-2" width="1" height="9" fill="#bfe0ff"/>
<rect x="150" y="2" width="5" height="1" fill="#d8ecff"/>
<path d="M146.300,13.200 a3.200,3.200 0 0 1 -0.300,-6.300 a3.600,3.600 0 0 1 6.300,-1.200 a3.400,3.400 0 0 1 5,2.600 a2.600,2.600 0 0 1 -0.800,4.900 Z" fill="#eef2f8" stroke="#5a78b4" stroke-width="1"/>
<path d="M146,11.800 H157" stroke="#c4cede" stroke-width="1.200"/>
<!-- signal icon -->
<path d="M179,5.500 L187,5.500 A8,8 0 0 1 179,13.500 Z" fill="#6cb86c" opacity="0.850"/>
<g fill="none" stroke="#7aa0e0" stroke-width="0.900" opacity="0.800">
<circle cx="179" cy="5.500" r="3.600"/><circle cx="179" cy="5.500" r="6" stroke="#9ab8ea"/><circle cx="179" cy="5.500" r="8.200" stroke="#b8cdf0"/>
</g>
<circle cx="179" cy="5.300" r="1.700" fill="#2458d0"/>
<rect x="179" y="6" width="1.300" height="7.800" fill="#18a818"/>
<!-- autotrading icon -->
<path d="M198.500,4 L213.500,4 L208,10.500 L208,13.800 L203.500,11.500 L203.500,10 Z" fill="#f8d030" stroke="#d8a818" stroke-width="0.800"/>
<path d="M200,5.500 L206,5.500 L204.500,9.500 Z" fill="#fff2a0"/>
<ellipse cx="206" cy="2.600" rx="8" ry="2.800" fill="#3a98d8"/>
<ellipse cx="206" cy="0.200" rx="5" ry="3" fill="#58b4ee"/>
<ellipse cx="206" cy="3" rx="6.500" ry="1.300" fill="#2a80c4"/>
<circle cx="210.300" cy="9.700" r="4" fill="#d42010"/>
<circle cx="210.300" cy="9.700" r="4" fill="none" stroke="#b01808" stroke-width="0.600"/>
<rect x="208.700" y="8.100" width="3.300" height="3.300" fill="#fff"/>
<!-- separator + grip -->
<rect x="298.500" y="0" width="1" height="18" fill="#a0a0a0"/>
<g fill="#b4b4b4"><rect x="302" y="0" width="3" height="1"/><rect x="302" y="2" width="3" height="1"/><rect x="302" y="4" width="3" height="1"/><rect x="302" y="6" width="3" height="1"/><rect x="302" y="8" width="3" height="1"/><rect x="302" y="10" width="3" height="1"/><rect x="302" y="12" width="3" height="1"/><rect x="302" y="14" width="3" height="1"/></g>
<!-- bar chart icon -->
<g stroke="#484848" stroke-width="1.250" fill="none"><path d="M316.500,-1 V14"/><path d="M314,11.500 H327"/><path d="M325.500,10 L327.500,11.500 L325.500,13" /></g>
<path d="M320.500,9 H322.500 V2 H324.500" stroke="#18a018" stroke-width="1.400" fill="none"/>
<!-- candle icon (active) -->
<rect x="336.500" y="0" width="24" height="16" fill="url(#hatch)"/>
<rect x="336" y="0" width="1" height="16" fill="#a0a0a0"/>
<g stroke="#484848" stroke-width="1.250" fill="none"><path d="M344.500,-1 V14"/><path d="M342,11.500 H355"/><path d="M353.500,10 L355.500,11.500 L353.500,13"/></g>
<rect x="348.500" y="0.500" width="4" height="7" fill="#22b422" stroke="#0c800c"/><rect x="350" y="7.500" width="1" height="2.500" fill="#0c800c"/>
<!-- line chart icon -->
<g stroke="#484848" stroke-width="1.250" fill="none"><path d="M372.500,-1 V14"/><path d="M370,11.500 H383"/><path d="M381.500,10 L383.500,11.500 L381.500,13"/></g>
<path d="M371.500,8.500 Q376,1 378,3.500 T383,7.500" stroke="#209820" stroke-width="1.200" fill="none"/>
<rect x="393" y="0" width="1" height="16" fill="#a0a0a0"/>
<!-- zoom in -->
<path d="M412,8 L417.500,13" stroke="#c8a020" stroke-width="2.600" stroke-linecap="round"/>
<circle cx="408" cy="3.800" r="5.500" fill="#cfe8fa" stroke="#3a78c8" stroke-width="1.300"/>
<path d="M404.800,3.800 H411.200 M408,0.600 V7" stroke="#2a68b8" stroke-width="1.500"/>
<!-- zoom out -->
<path d="M440,8 L445.500,13" stroke="#c8a020" stroke-width="2.600" stroke-linecap="round"/>
<circle cx="436" cy="3.800" r="5.500" fill="#cfe8fa" stroke="#3a78c8" stroke-width="1.300"/>
<path d="M432.800,3.800 H439.200" stroke="#2a68b8" stroke-width="1.500"/>
<!-- tile icon -->
<rect x="458.500" y="-1" width="7.500" height="7" fill="#5ab02a"/><rect x="466.500" y="-1" width="7.500" height="7" fill="#3a6ad8"/>
<rect x="458.500" y="6.500" width="7.500" height="7" fill="#2a52c8"/><rect x="466.500" y="6.500" width="7.500" height="7" fill="#48a020"/>
<g fill="#e8f4e0"><rect x="460" y="1.500" width="4.500" height="1"/><rect x="468" y="1.500" width="4.500" height="1"/><rect x="460" y="9.500" width="4.500" height="1"/><rect x="468" y="9.500" width="4.500" height="1"/><rect x="460" y="3" width="1" height="2"/><rect x="463.500" y="3" width="1" height="2"/><rect x="468" y="3" width="1" height="2"/><rect x="471.500" y="3" width="1" height="2"/><rect x="460" y="11" width="1" height="2"/><rect x="463.500" y="11" width="1" height="2"/><rect x="468" y="11" width="1" height="2"/><rect x="471.500" y="11" width="1" height="2"/></g>
<rect x="483" y="0" width="1" height="16" fill="#a0a0a0"/>
<!-- autoscroll (active) -->
<rect x="488.500" y="0" width="24" height="16" fill="url(#hatch)"/>
<rect x="488" y="0" width="1" height="16" fill="#a0a0a0"/>
<g stroke="#484848" stroke-width="1.250" fill="none"><path d="M496.500,-1 V14"/><path d="M494,11.500 H507"/><path d="M505.500,10 L507.500,11.500 L505.500,13"/></g>
<polygon points="501,2.500 505.300,5.500 501,8.500" fill="#30c030" stroke="#109010" stroke-width="0.800"/>
<!-- chart shift (active) -->
<rect x="516.500" y="0" width="24" height="16" fill="url(#hatch)"/>
<rect x="516" y="0" width="1" height="16" fill="#a0a0a0"/>
<g stroke="#484848" stroke-width="1.250" fill="none"><path d="M524.500,-1 V14"/><path d="M522,11.500 H535"/><path d="M533.500,10 L535.500,11.500 L533.500,13"/></g>
<rect x="530" y="0" width="1" height="10" fill="#2a60c0"/>
<path d="M531.500,5.500 H536 M531.500,5.500 L534,3.500 M531.500,5.500 L534,7.500" stroke="#d83808" stroke-width="1.100" fill="none"/>
<rect x="545" y="0" width="1" height="16" fill="#a0a0a0"/>
<!-- indicators icon -->
<path d="M555.500,-2 H563 L566.500,1.500 V11 H555.500 Z" fill="#fff" stroke="#909090" stroke-width="1"/>
<text x="557" y="7" font-family="Liberation Serif, serif" font-style="italic" font-size="8" fill="#606060">f</text>
<path d="M563.500,4.500 h4 v4 h4 v4 h-4 v4 h-4 v-4 h-4 v-4 h4 z" fill="#2fd12f" stroke="#0a8f0a" stroke-width="1"/>
<polygon points="576.800,4.800 582.400,4.800 579.600,8" fill="#000"/>
<!-- clock -->
<circle cx="600.900" cy="5.300" r="7" fill="#fff" stroke="url(#gBlue)" stroke-width="2.200"/>
<path d="M601,1.500 V5.800 H604" stroke="#606060" stroke-width="1.100" fill="none"/>
<polygon points="616,4.800 621.600,4.800 618.800,8" fill="#000"/>
<!-- template icon -->
<rect x="632.500" y="-1.500" width="15" height="14" fill="#fff" stroke="#3a78d0" stroke-width="1"/>
<rect x="632.500" y="-1.500" width="15" height="2.500" fill="#4a90e0"/>
<rect x="633" y="6.300" width="14" height="1" fill="#3a78d0"/>
<path d="M634,4.500 L637,3.500 L640,4.500 L643,3 L646,3.500" stroke="#a83010" stroke-width="1.200" fill="none"/>
<path d="M634,10.500 L637,9.500 L640,10.500 L643,8.500 L646,10.500" stroke="#20a020" stroke-width="1.200" fill="none"/>
<polygon points="654.800,4.800 660.400,4.800 657.600,8" fill="#000"/>
<rect x="666" y="0" width="1" height="18" fill="#a0a0a0"/>
<g fill="#b4b4b4"><rect x="670" y="0" width="3" height="1"/><rect x="670" y="2" width="3" height="1"/><rect x="670" y="4" width="3" height="1"/><rect x="670" y="6" width="3" height="1"/><rect x="670" y="8" width="3" height="1"/><rect x="670" y="10" width="3" height="1"/><rect x="670" y="12" width="3" height="1"/><rect x="670" y="14" width="3" height="1"/></g>
<!-- cursor (active) -->
<rect x="676.500" y="0" width="24.500" height="16" fill="url(#hatch)"/>
<rect x="676" y="0" width="1" height="16" fill="#a0a0a0"/>
<path d="M684.200,-3 V9.300 L687,6.800 L689.500,12.800 L691.500,12 L689,6.200 H692.300 Z" fill="#505050"/>
<!-- crosshair -->
<path d="M709,6.500 H724 M716.500,0 V13.500" stroke="#505050" stroke-width="1.100"/>
<rect x="733" y="0" width="1" height="16" fill="#a0a0a0"/>
<rect x="750" y="0" width="1" height="13" fill="#505050"/>
<rect x="773" y="6" width="12" height="1" fill="#505050"/>
<path d="M801,12.800 L813,0.500" stroke="#505050" stroke-width="1.100"/>
<!-- channel icon -->
<g stroke="#484848" stroke-width="1.250" fill="none"><path d="M827,10 L838,-1"/><path d="M830.500,12.500 L841.500,1.500"/><path d="M829,6 L833,11 M832,3 L836,8 M835,0 L839,5" stroke-width="0.800"/></g>
<text x="837.500" y="14.700" font-family="Liberation Sans, sans-serif" font-weight="bold" font-size="6.500" fill="#404040">E</text>
<!-- fibo icon -->
<g stroke="#606060" stroke-width="1" stroke-dasharray="1,1"><path d="M856,2.500 H869"/><path d="M856,6.500 H869"/><path d="M856,10.500 H866"/></g>
<text x="865.800" y="14.700" font-family="Liberation Sans, sans-serif" font-weight="bold" font-size="6.500" fill="#404040">F</text>
<text x="886.300" y="10.500" font-family="Liberation Sans, sans-serif" font-weight="bold" font-size="11.500" fill="#505050">A</text>
<rect x="913.500" y="0.500" width="11" height="12" fill="none" stroke="#505050" stroke-width="1" stroke-dasharray="1,1" shape-rendering="crispEdges"/>
<text x="915.200" y="10.600" font-family="Liberation Sans, sans-serif" font-weight="bold" font-size="10.500" fill="#505050">T</text>
<!-- arrows icon -->
<polygon points="943.500,0 947,3 943.500,5 940,3" fill="#505050"/>
<polygon points="950.500,8 954,10 950.500,13 947,10" fill="#505050"/>
<path d="M943,6.500 L945.500,9 L950,3.500" stroke="#505050" stroke-width="1.300" fill="none"/>
<polygon points="961,4.800 966.600,4.800 963.800,8" fill="#000"/>
<rect x="972" y="0" width="1" height="18" fill="#a0a0a0"/>
<g fill="#b4b4b4"><rect x="976" y="0" width="3" height="1"/><rect x="976" y="2" width="3" height="1"/><rect x="976" y="4" width="3" height="1"/><rect x="976" y="6" width="3" height="1"/><rect x="976" y="8" width="3" height="1"/><rect x="976" y="10" width="3" height="1"/><rect x="976" y="12" width="3" height="1"/><rect x="976" y="14" width="3" height="1"/></g>
<!-- timeframes -->
<rect x="1122.500" y="0" width="24.500" height="16" fill="url(#hatch)"/>
<rect x="1122" y="0" width="1" height="16" fill="#a0a0a0"/>
<g font-family="Liberation Sans, sans-serif" font-size="10.100" fill="#404040" stroke="#404040" stroke-width="0.120"><text transform="translate(987,9.900) scale(0.900,1)">M1</text><text transform="translate(1015.2,9.900) scale(0.900,1)">M5</text><text transform="translate(1040.8,9.900) scale(0.900,1)">M15</text><text transform="translate(1069,9.900) scale(0.900,1)">M30</text><text transform="translate(1099.8,9.900) scale(0.900,1)">H1</text><text transform="translate(1127,9.900) scale(0.900,1)">H4</text><text transform="translate(1156,9.900) scale(0.900,1)">D1</text><text transform="translate(1184,9.900) scale(0.900,1)">W1</text><text transform="translate(1210.3,9.900) scale(0.900,1)">MN</text></g>
<rect x="1233" y="0" width="1" height="18" fill="#a0a0a0"/>
<!-- search -->
<path d="M1648,6.500 L1642.800,11.300" stroke="#2458c8" stroke-width="2.200" stroke-linecap="round"/>
<circle cx="1650.900" cy="3.500" r="3.700" fill="#fdfdff" stroke="#2a62d8" stroke-width="1.300"/>
<!-- chat bubble -->
<path d="M1668,5 q0,-3 6,-3 h6 v10 h-7 l-2.500,2.500 v-2.500 q-2.500,-1 -2.500,-4 z" fill="#e4e6ec" stroke="#b8bcc4" stroke-width="0.800"/>
<circle cx="1681.200" cy="3.600" r="8.200" fill="url(#gRed)"/>
<text x="1677.700" y="8" font-family="Liberation Serif, serif" font-weight="bold" font-size="12.500" fill="#fff">1</text>
</g>
</svg>
</body></html>
